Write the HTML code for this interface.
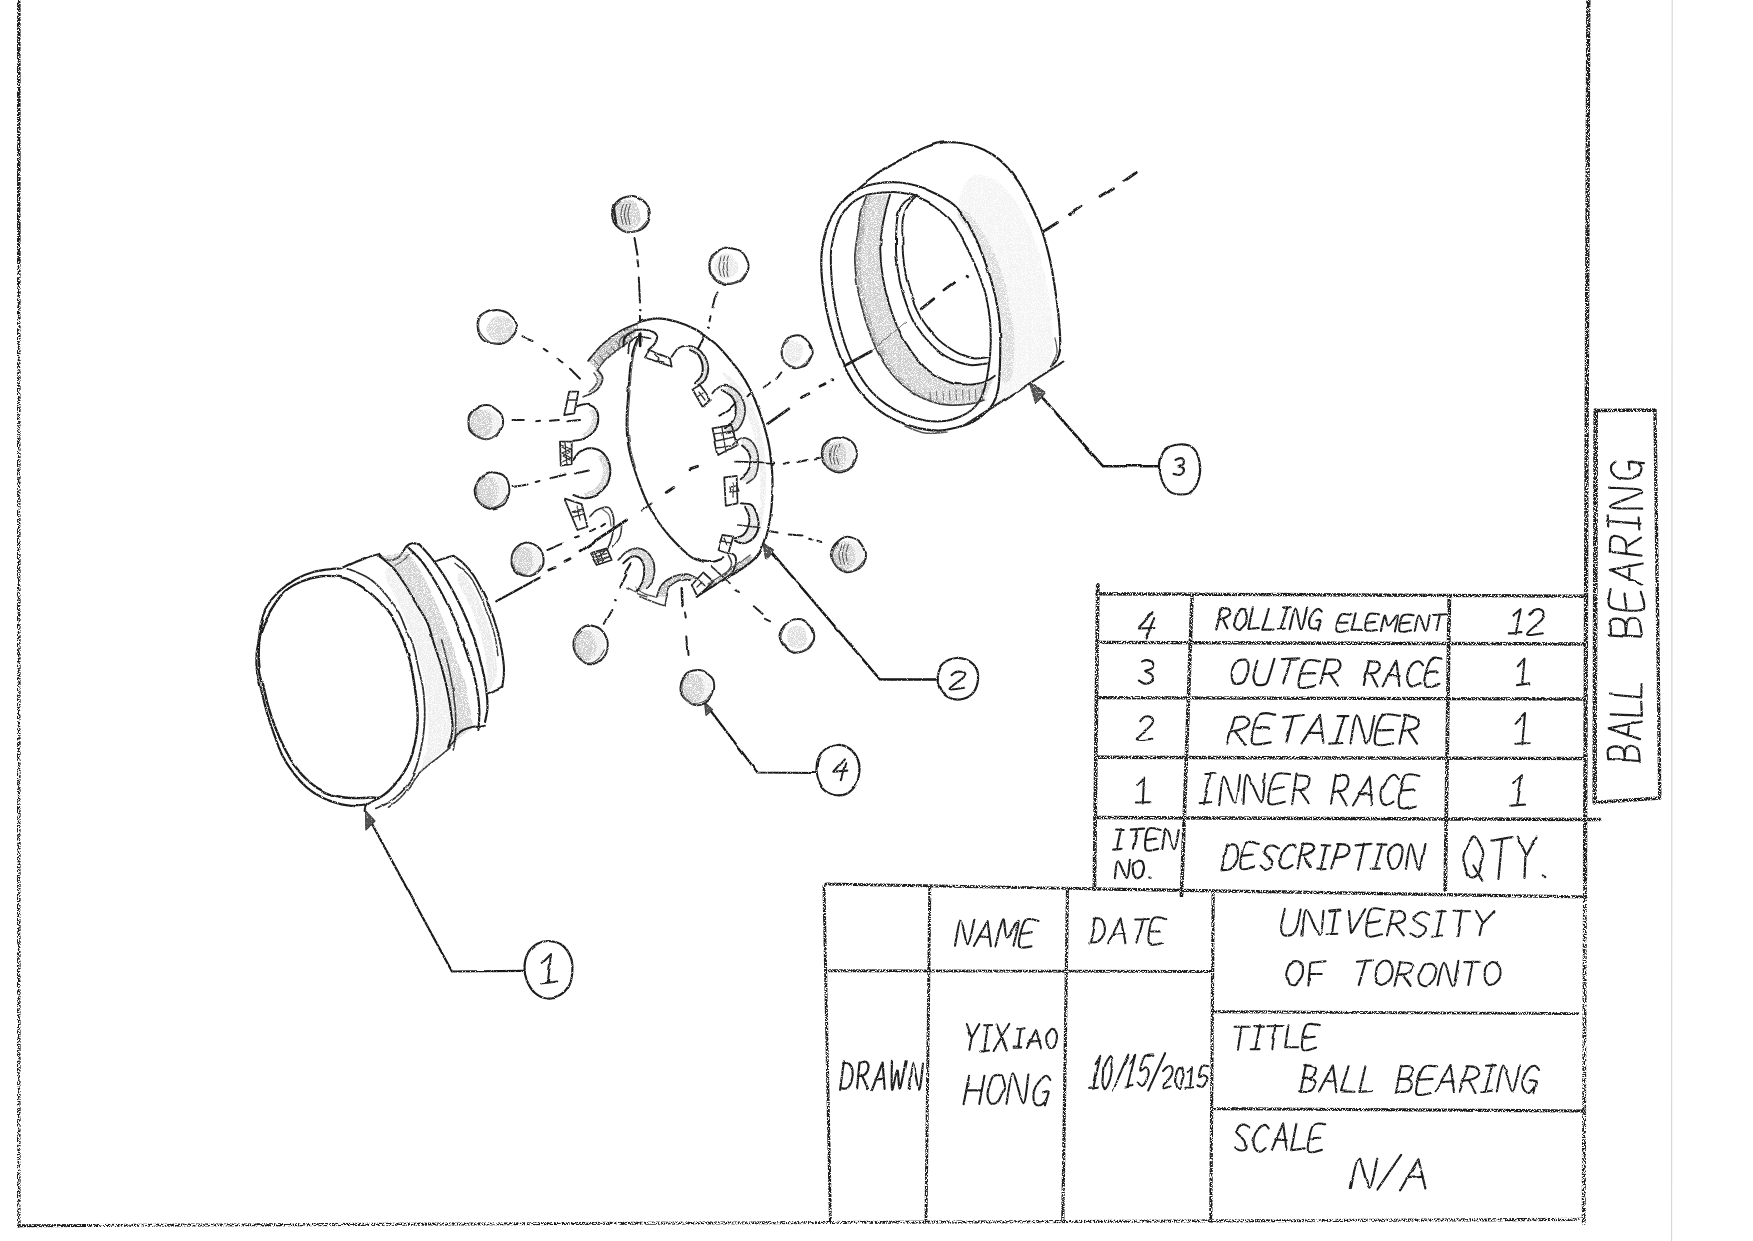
<!DOCTYPE html>
<html><head><meta charset="utf-8"><title>Ball Bearing</title>
<style>
html,body{margin:0;padding:0;background:#fff;font-family:"Liberation Sans",sans-serif;}
svg{display:block}
</style></head><body>
<svg width="1753" height="1241" viewBox="0 0 1753 1241" stroke-linecap="round" stroke-linejoin="round">
<defs>
<filter id="st" x="-5%" y="-5%" width="110%" height="110%" filterUnits="objectBoundingBox">
<feTurbulence type="fractalNoise" baseFrequency="0.8" numOctaves="2" seed="3" result="n"/>
<feColorMatrix in="n" type="matrix" values="0 0 0 0 0 0 0 0 0 0 0 0 0 0 0 0 0 0 -9 5.6" result="m"/>
<feComposite in="SourceGraphic" in2="m" operator="in" result="c"/>
<feGaussianBlur in="c" stdDeviation="0.4"/>
</filter>
<filter id="st2" x="-5%" y="-5%" width="110%" height="110%">
<feTurbulence type="fractalNoise" baseFrequency="0.7" numOctaves="2" seed="11" result="n"/>
<feColorMatrix in="n" type="matrix" values="0 0 0 0 0 0 0 0 0 0 0 0 0 0 0 0 0 0 -9 5.0" result="m"/>
<feComposite in="SourceGraphic" in2="m" operator="in"/>
</filter>
<filter id="pn" x="-5%" y="-5%" width="110%" height="110%">
<feTurbulence type="fractalNoise" baseFrequency="0.9" numOctaves="2" seed="5" result="n"/>
<feColorMatrix in="n" type="matrix" values="0 0 0 0 0 0 0 0 0 0 0 0 0 0 0 0 0 0 -7 4.6" result="m"/>
<feComposite in="SourceGraphic" in2="m" operator="in"/>
</filter>
<filter id="pc" x="0" y="0" width="1753" height="1241" filterUnits="userSpaceOnUse">
<feTurbulence type="fractalNoise" baseFrequency="0.04" numOctaves="2" seed="2" result="w"/>
<feDisplacementMap in="SourceGraphic" in2="w" scale="2.4" xChannelSelector="R" yChannelSelector="G" result="d"/>
<feTurbulence type="fractalNoise" baseFrequency="1.2" numOctaves="1" seed="8" result="n"/>
<feColorMatrix in="n" type="matrix" values="0 0 0 0 0 0 0 0 0 0 0 0 0 0 0 0 0 0 -6 4.55" result="m"/>
<feComposite in="d" in2="m" operator="in"/>
</filter>
</defs>
<rect width="1753" height="1241" fill="#fff"/>
<g filter="url(#st)">
<path d="M18.8 0L18.8 260" fill="none" stroke="#1c1c1c" stroke-width="3.6" />
<path d="M18.5 1225.8L90 1225.5" fill="none" stroke="#1c1c1c" stroke-width="2.9" />
<path d="M1588.3 0L1585 880" fill="none" stroke="#1c1c1c" stroke-width="4.3" />
<path d="M1596.3 410.5L1655 410L1659.8 798L1595 802.5Z" fill="none" stroke="#1c1c1c" stroke-width="3.4" />
<path d="M1595.6 410.5L1594.6 802.5" fill="none" stroke="#1c1c1c" stroke-width="4.4" />
<path d="M1097.8 585L1094.4 889" fill="none" stroke="#1c1c1c" stroke-width="3.8" />
<path d="M1097 593.7L1586 596.2" fill="none" stroke="#1c1c1c" stroke-width="3.4" />
<path d="M1192 597L1181.5 896" fill="none" stroke="#1c1c1c" stroke-width="3.7" />
<path d="M1449.3 597L1445.3 890" fill="none" stroke="#1c1c1c" stroke-width="3.8" />
<path d="M1097 642.4L1586 644" fill="none" stroke="#1c1c1c" stroke-width="3.4" />
<path d="M1096 697.6L1586 699" fill="none" stroke="#1c1c1c" stroke-width="3.4" />
<path d="M1096 757.3L1586 758.5" fill="none" stroke="#1c1c1c" stroke-width="3.4" />
<path d="M1095 817.5L1600 819.5" fill="none" stroke="#1c1c1c" stroke-width="3.4" />
<path d="M826 884L1094 888.8" fill="none" stroke="#1c1c1c" stroke-width="2.9" />
<path d="M1094 888.8L1586 897" fill="none" stroke="#1c1c1c" stroke-width="3.2" />
<path d="M824 886L830.4 1221" fill="none" stroke="#1c1c1c" stroke-width="3" />
<path d="M929.8 887L926 1221" fill="none" stroke="#1c1c1c" stroke-width="3" />
<path d="M1067.5 889L1062.8 1221" fill="none" stroke="#1c1c1c" stroke-width="3.2" />
<path d="M1213.2 892L1210.8 1221" fill="none" stroke="#1c1c1c" stroke-width="3.2" />
<path d="M829 970.7L1211 971.5" fill="none" stroke="#1c1c1c" stroke-width="2.9" />
<path d="M1213 1011.7L1578 1013.6" fill="none" stroke="#1c1c1c" stroke-width="2.9" />
<path d="M1212 1108.6L1584 1111" fill="none" stroke="#1c1c1c" stroke-width="3.1" />
</g>
<g filter="url(#st2)">
<path d="M1585 880L1583.7 1223" fill="none" stroke="#1c1c1c" stroke-width="4" />
<path d="M18.8 260L18.8 1226" fill="none" stroke="#1c1c1c" stroke-width="3.6" />
<path d="M90 1225.5L1584 1219.4" fill="none" stroke="#1c1c1c" stroke-width="3.1" />
</g>
<path d="M1672.2 0L1671.6 1241" fill="none" stroke="#d4d4d4" stroke-width="1.1" />
<g filter="url(#pc)">
<g filter="url(#pn)">
<path d="M866.7 195.8C865.6 198.7 861.4 207.6 860 213.3C858.6 219 859.1 223 858.2 230C857.4 237 855.2 246.9 854.9 255.4C854.6 263.9 855.5 272.3 856.6 280.8C857.7 289.3 859.5 297.7 861.6 306.2C863.7 314.7 866.3 323.4 869.3 331.6C872.3 339.8 875.2 347.7 879.4 355.3C883.6 362.9 888.7 370.8 894.6 377.3C900.5 383.8 908.2 390 915 394.2C921.8 398.4 929.5 400.9 935.3 402.7C941.1 404.5 945 404.9 950 405.2C955 405.5 960.5 404.9 965 404.5C969.5 404.1 973.5 403.2 976.7 402.5C979.9 401.8 982.8 400.4 984 400L995 375.8C993.6 376.7 989.9 379.6 986.7 381C983.5 382.4 979.6 383.4 976 384C972.4 384.6 969.3 384.8 965 384.5C960.7 384.2 956.1 384.8 950 382.5C943.9 380.2 934.9 375.6 928.5 370.5C922.1 365.4 916.7 358.9 911.6 351.9C906.5 344.8 901.8 336.4 898 328.2C894.2 320 891.2 311.3 888.7 302.8C886.2 294.3 884.2 286.1 882.8 277.4C881.4 268.6 880.4 258.2 880.3 250.3C880.1 242.4 881 236.7 881.9 230C882.8 223.3 884.4 215.9 885.8 210C887.1 204.1 889.3 197.2 890 194.7Z" fill="#ababab" stroke="none" stroke-width="0" opacity="0.58"/>
<path d="M866.7 195.8C865.6 198.7 861.4 207.6 860 213.3C858.6 219 859.1 223 858.2 230C857.4 237 855.2 246.9 854.9 255.4C854.6 263.9 855.5 272.3 856.6 280.8C857.7 289.3 859.5 297.7 861.6 306.2C863.7 314.7 866.3 323.4 869.3 331.6C872.3 339.8 875.2 347.7 879.4 355.3C883.6 362.9 888.7 370.8 894.6 377.3C900.5 383.8 908.2 390 915 394.2C921.8 398.4 929.5 400.9 935.3 402.7C941.1 404.5 945 404.9 950 405.2C955 405.5 960.5 404.9 965 404.5C969.5 404.1 973.5 403.2 976.7 402.5C979.9 401.8 982.8 400.4 984 400L989.5 399C988.3 399.4 985.4 400.8 982.2 401.5C979 402.2 975 403.1 970.5 403.5C966 403.9 960.5 404.5 955.5 404.2C950.5 403.9 946.6 403.5 940.8 401.7C935 399.9 927.3 397.4 920.5 393.2C913.7 389 906 382.8 900.1 376.3C894.2 369.8 889.1 361.9 884.9 354.3C880.7 346.7 877.8 338.8 874.8 330.6C871.8 322.4 869.2 313.7 867.1 305.2C865 296.7 863.2 288.3 862.1 279.8C861 271.3 860.1 262.9 860.4 254.4C860.7 245.9 862.9 236 863.7 229C864.6 222 864.1 218 865.5 212.3C866.9 206.6 871.1 197.7 872.2 194.8Z" fill="#8a8a8a" stroke="none" stroke-width="0" opacity="0.45"/>
<path d="M960 212C962.2 219.7 970.5 227.7 975 236C979.5 244.3 983.5 253 987 262C990.5 271 993.5 280.3 996 290C998.5 299.7 1000.8 310 1002 320C1003.2 330 1003.2 339.2 1003 350C1002.8 360.8 1002.3 375.8 1001 385C999.7 394.2 988.5 406.2 995 405C1001.5 403.8 1030.5 386.3 1040 378C1049.5 369.7 1050 364.7 1052 355C1054 345.3 1052.8 331.7 1052 320C1051.2 308.3 1049 295.8 1047 285C1045 274.2 1042.8 264.5 1040 255C1037.2 245.5 1034.2 237.2 1030 228C1025.8 218.8 1020.8 208 1015 200C1009.2 192 1001.7 184.2 995 180C988.3 175.8 980.5 173.3 975 175C969.5 176.7 964.5 183.8 962 190C959.5 196.2 957.8 204.3 960 212Z" fill="#e2e2e2" stroke="none" stroke-width="0" opacity="0.42"/>
<path d="M958 214C959.2 218.7 970 231 975 240C980 249 984.3 258 988 268C991.7 278 994.7 288.8 997 300C999.3 311.2 1001.2 321.7 1002 335C1002.8 348.3 1000.3 373.3 1002 380C1003.7 386.7 1010 382.5 1012 375C1014 367.5 1014.7 347.8 1014 335C1013.3 322.2 1010.7 310.2 1008 298C1005.3 285.8 1002 272.7 998 262C994 251.3 989 242.3 984 234C979 225.7 972.3 215.3 968 212C963.7 208.7 956.8 209.3 958 214Z" fill="#c2c2c2" stroke="none" stroke-width="0" opacity="0.5"/>
</g>
<path d="M821.5 272.3C821.1 264.4 821.1 257.4 821.9 250.3C822.7 243.2 824.3 235.7 826.1 230C827.9 224.3 829.4 221.1 832.5 216C835.6 210.9 840.4 203.8 845 199.2C849.6 194.6 854.2 191 860 188.3C865.8 185.6 873.3 184 880 183C886.7 182 893.9 182 900 182.5C906.1 183 910.6 183.9 916.7 185.8C922.8 187.8 930.6 191.1 936.7 194.2C942.8 197.3 948.7 200.4 953.5 204.5C958.3 208.6 961.7 213.4 965.4 219C969.1 224.6 972.5 231.7 975.6 238.3C978.7 244.9 981.5 251.9 984 258.7C986.5 265.5 988.8 272.2 990.8 279C992.8 285.8 994.5 292.5 995.9 299.3C997.3 306.1 998.6 312.8 999.3 319.6C1000 326.4 1000.2 332.7 1000.3 340C1000.4 347.3 1000.3 355.2 1000 363.3C999.7 371.4 999.4 381.6 998.3 388.3C997.2 395 995.5 399.1 993.3 403.3C991.1 407.5 988.3 410.2 985 413.3C981.7 416.4 978 419.3 973.3 421.7C968.6 424.1 962.5 426 956.7 427.5C950.9 429 945.1 430.5 938.7 430.6C932.3 430.7 925.1 429.7 918.3 428.1C911.5 426.6 904.8 424.4 898 421.3C891.2 418.2 884.2 414.5 877.7 409.4C871.2 404.3 864.5 397.6 859.1 390.8C853.8 384 849.3 375.9 845.6 368.8C841.9 361.8 839.8 356.1 837.1 348.5C834.4 340.9 831.6 331.6 829.5 323.1C827.4 314.6 825.7 306.2 824.4 297.7C823.1 289.2 821.9 280.2 821.5 272.3Z" fill="none" stroke="#1c1c1c" stroke-width="2.2" />
<path d="M831.2 272.3C830.8 264.4 830.5 257.4 831.2 250.3C831.9 243.2 833.8 235.6 835.4 230C837 224.4 838.3 221.4 841 217C843.7 212.6 847.4 207 851.7 203.3C856 199.6 861.4 196.8 866.7 195C872 193.2 877.8 192.9 883.3 192.5C888.8 192.1 894.4 191.8 900 192.5C905.6 193.2 911.2 194.6 916.7 196.7C922.2 198.8 927.4 200.9 933.3 205C939.2 209.1 947.1 215.8 951.9 221.4C956.7 227 958.6 232.1 962 238.3C965.4 244.5 969.1 251.9 972.2 258.7C975.3 265.5 978.2 272.2 980.6 279C983 285.8 985.1 292.5 986.6 299.3C988.1 306.1 989.2 312.8 989.9 319.6C990.6 326.4 990.8 334.1 990.8 340C990.8 345.9 990.4 350 990 355C989.6 360 989.1 364.7 988.3 370C987.5 375.3 986.4 381.7 985 386.7C983.6 391.7 982.2 396.1 980 400C977.8 403.9 975 407.2 971.7 410C968.4 412.8 964.5 414.9 960 416.7C955.5 418.5 950.8 420.4 945 421C939.2 421.6 931.8 421.6 925.1 420.5C918.4 419.4 911.3 417.2 904.8 414.5C898.3 411.8 892.1 408.6 886.2 404.4C880.3 400.2 874.4 395 869.3 389.1C864.2 383.2 859.5 375.6 855.7 368.8C851.9 362 849.2 356.1 846.4 348.5C843.6 340.9 840.9 331.6 838.8 323.1C836.7 314.6 835 306.2 833.7 297.7C832.4 289.2 831.6 280.2 831.2 272.3Z" fill="none" stroke="#1c1c1c" stroke-width="2" />
<path d="M866.7 195.8C865.6 198.7 861.4 207.6 860 213.3C858.6 219 859.1 223 858.2 230C857.4 237 855.2 246.9 854.9 255.4C854.6 263.9 855.5 272.3 856.6 280.8C857.7 289.3 859.5 297.7 861.6 306.2C863.7 314.7 866.3 323.4 869.3 331.6C872.3 339.8 875.2 347.7 879.4 355.3C883.6 362.9 888.7 370.8 894.6 377.3C900.5 383.8 908.2 390 915 394.2C921.8 398.4 929.5 400.9 935.3 402.7C941.1 404.5 945 404.9 950 405.2C955 405.5 960.5 404.9 965 404.5C969.5 404.1 973.5 403.2 976.7 402.5C979.9 401.8 982.8 400.4 984 400" fill="none" stroke="#3a3a3a" stroke-width="1.7" />
<path d="M890 194.7C889.3 197.2 887.1 204.1 885.8 210C884.4 215.9 882.8 223.3 881.9 230C881 236.7 880.1 242.4 880.3 250.3C880.4 258.2 881.4 268.6 882.8 277.4C884.2 286.1 886.2 294.3 888.7 302.8C891.2 311.3 894.2 320 898 328.2C901.8 336.4 906.5 344.8 911.6 351.9C916.7 358.9 922.1 365.4 928.5 370.5C934.9 375.6 943.9 380.2 950 382.5C956.1 384.8 960.7 384.2 965 384.5C969.3 384.8 972.4 384.6 976 384C979.6 383.4 983.5 382.4 986.7 381C989.9 379.6 993.6 376.7 995 375.8" fill="none" stroke="#1c1c1c" stroke-width="1.9" />
<path d="M916.7 195.8C914.8 196.8 908.1 198.8 905 201.7C901.9 204.6 899.8 208.6 898.3 213.3C896.8 218 896.6 223 896.3 230C896 237 895.7 246.9 896.3 255.4C896.9 263.9 898 272.6 899.7 280.8C901.4 289 903.7 296.9 906.5 304.5C909.3 312.1 912.5 319.7 916.7 326.5C920.9 333.3 926.4 339.7 931.9 345.1C937.4 350.5 943.6 355.4 950 358.7C956.4 362 963.7 364.2 970 365C976.3 365.8 985 363.6 988 363.3" fill="none" stroke="#1c1c1c" stroke-width="2" />
<path d="M916.7 196.7C915.3 198.1 910.5 201.7 908.3 205C906.1 208.3 904.3 212.5 903.3 216.7C902.3 220.9 902.3 223.6 902.3 230C902.3 236.4 902.4 247.2 903.1 255.4C903.8 263.6 904.8 271.5 906.5 279.1C908.2 286.7 910.5 294.1 913.3 301.1C916.1 308.2 919.4 315.2 923.4 321.4C927.4 327.6 932.6 333.8 937 338.3C941.4 342.8 945.8 345.7 950 348.5C954.2 351.3 957.8 353.3 962 355C966.2 356.7 970.7 358.2 975 358.5C979.3 358.8 985.8 357.2 988 357" fill="none" stroke="#1c1c1c" stroke-width="1.9" />
<path d="M845 199.2C848.9 196 861.6 185.2 868.3 180C875 174.8 879.2 171.9 885 168.3C890.8 164.7 896.9 161.6 903.3 158.3C909.7 155 917.2 150.9 923.3 148.3C929.4 145.7 934.4 143.8 940 142.8C945.6 141.8 950.6 141.8 956.7 142.5C962.8 143.2 970.6 144.6 976.7 146.7C982.8 148.8 988.3 151.7 993.3 155C998.3 158.3 1002.5 162.2 1006.7 166.7C1010.9 171.1 1014.4 175.6 1018.3 181.7C1022.2 187.8 1026.1 195.2 1030 203.3C1033.9 211.4 1038.4 220.6 1041.7 230C1045 239.4 1047.8 250.3 1050 260C1052.2 269.7 1053.6 279.4 1055 288.3C1056.4 297.2 1057.5 305.5 1058.3 313.3C1059.1 321.1 1059.7 328.9 1060 335C1060.3 341.1 1060.5 345.8 1060 350C1059.5 354.2 1058.2 357.2 1056.7 360C1055.2 362.8 1052 365.4 1051 366.5" fill="none" stroke="#1c1c1c" stroke-width="2.2" />
<path d="M1055 338C1055.3 340.3 1057.5 347.7 1057 352C1056.5 356.3 1052.8 362 1052 364" fill="none" stroke="#555" stroke-width="1.3" />
<path d="M1063.3 361.7L965 425" fill="none" stroke="#262626" stroke-width="2.2" />
<path d="M905 426C908.3 427.2 918 432 925 433C932 434 943.3 432.2 947 432" fill="none" stroke="#555" stroke-width="1.6" />
<path d="M930 392L930.5 400" fill="none" stroke="#666" stroke-width="1" />
<path d="M936.5 391.7L937 400" fill="none" stroke="#666" stroke-width="1" />
<path d="M943 391.4L943.5 400" fill="none" stroke="#666" stroke-width="1" />
<path d="M949.5 391.1L950 400" fill="none" stroke="#666" stroke-width="1" />
<path d="M956 390.8L956.5 400" fill="none" stroke="#666" stroke-width="1" />
<path d="M962.5 390.5L963 400" fill="none" stroke="#666" stroke-width="1" />
<path d="M969 390.2L969.5 400" fill="none" stroke="#666" stroke-width="1" />
<path d="M975.5 389.9L976 400" fill="none" stroke="#666" stroke-width="1" />
<path d="M982 389.6L982.5 400" fill="none" stroke="#666" stroke-width="1" />
<path d="M1030 383.5L1103.1 466.3L1160 466.3" fill="none" stroke="#161616" stroke-width="2.6" />
<path d="M1029.5 382.5L1035.6 403.8L1045 393.1Z" fill="#555" stroke="#3a3a3a" stroke-width="1.1" />
<path d="M1179.6 444.5C1184.3 444.2 1189.7 445.1 1193 448C1196.3 450.9 1198.5 457 1199.5 462C1200.5 467 1200.2 473.2 1199 478C1197.8 482.8 1195 488.2 1192 491C1189 493.8 1184.8 494.5 1181 494.5C1177.2 494.5 1172.2 493.6 1169 491C1165.8 488.4 1163 483.5 1161.5 479C1160 474.5 1159.4 468.8 1160 464C1160.6 459.2 1161.7 453.2 1165 450C1168.3 446.8 1174.9 444.8 1179.6 444.5Z" fill="none" stroke="#1c1c1c" stroke-width="2.2" />
<path d="M259.7 670C258.9 663.8 258.6 656.3 258.8 650C259 643.7 259.2 638.3 261 632C262.8 625.7 265.6 619.1 269.5 612.4C273.4 605.7 279 596.9 284.3 591.8C289.6 586.6 295.4 584.1 301.5 581.5C307.6 578.9 314.6 577.1 320.9 576.3C327.2 575.5 333.8 576 339.2 576.9C344.6 577.8 347.9 578.8 353 581.5C358.1 584.2 364.8 588.5 370.1 592.9C375.4 597.3 380.6 602.4 385 607.8C389.4 613.1 393.2 618.9 396.5 625C399.8 631.1 402.2 638.3 404.5 644.4C406.8 650.5 408.5 654.5 410.2 661.6C411.9 668.7 413.7 680.1 414.8 687.2C415.9 694.3 416.5 698.6 417 704.3C417.5 710 417.8 715.8 417.6 721.5C417.4 727.2 416.8 733.3 415.9 738.6C415 743.9 414 748.7 412.5 753.5C411 758.3 409.1 762.9 406.8 767.3C404.5 771.7 401.6 776 398.7 779.8C395.8 783.6 392.8 787.1 389.6 790.1C386.4 793.1 382.4 796.3 379.3 797.5C376.2 798.7 374.7 797.4 371.3 797.5C367.9 797.6 363.7 798.2 358.7 798.1C353.7 798 347 798 341.5 797C336 796 330.8 794.9 325.5 792.4C320.2 789.9 314.4 786.3 309.5 782.1C304.6 777.9 300 773 295.8 767.3C291.6 761.6 287.7 754.5 284.3 747.8C280.9 741.1 277.9 734.1 275.2 727.2C272.5 720.3 270.2 713.3 268.3 706.6C266.4 699.9 265.1 693.3 263.7 687.2C262.3 681.1 260.5 676.2 259.7 670Z" fill="none" stroke="#1c1c1c" stroke-width="2.4" />
<path d="M364.4 805.6C363.3 805.7 361.4 806.4 357.6 806.2C353.8 806 347.2 805.8 341.5 804.4C335.8 803 328.9 800.9 323.2 798.1C317.5 795.3 312.1 792 307.2 787.8C302.2 783.6 297.7 778.5 293.5 773C289.3 767.5 285.2 761.2 282 754.7C278.8 748.2 276.5 741 274 734.1C271.5 727.2 269.3 720.8 267.2 713.5C265.1 706.2 263.1 697.9 261.4 690.6C259.7 683.4 257.7 675.9 256.9 670C256.1 664.1 256.3 659.3 256.5 655C256.7 650.7 257.2 650 258 644.4C258.8 638.8 260.1 627.6 261.4 621.5C262.7 615.4 263.1 612.8 266 607.8C268.9 602.8 273.6 596.6 278.6 591.8C283.6 587 289.9 582.5 295.8 579.2C301.7 575.9 308 573.5 314.1 571.8C320.2 570.1 327.8 569.5 332.4 568.9C337 568.3 338.1 569.2 341.5 568.3C344.9 567.3 349.2 564.8 353 563.2C356.8 561.6 360 560.1 364.4 558.6C368.8 557.1 376.8 554.8 379.3 554" fill="none" stroke="#1c1c1c" stroke-width="2.2" />
<path d="M379.3 798.1C377.2 799.2 369.1 802.7 366.7 805C364.2 807.3 365 810.8 364.6 812" fill="none" stroke="#1c1c1c" stroke-width="2" />
<path d="M348.4 568.9C351.1 570 359.8 573.3 364.4 575.8C369 578.3 372.1 580.4 375.9 583.8C379.7 587.2 383.5 591.6 387.3 596.4C391.1 601.2 395.6 607.1 398.7 612.4C401.8 617.7 403.3 623.1 405.6 628.4C407.9 633.7 410.6 638.9 412.5 644.4C414.4 649.9 415.9 657 417 661.6C418.1 666.2 418.3 667.7 419.3 672C420.3 676.3 421.9 681.8 422.8 687.2C423.7 692.6 424.2 698.6 424.5 704.3C424.8 710 424.8 715.8 424.5 721.5C424.2 727.2 423.7 732.9 422.8 738.6C421.9 744.3 420.6 750.4 419.3 755.8C418 761.1 416.7 765.9 414.8 770.7C412.9 775.5 410.6 780.4 407.9 784.4C405.2 788.4 401.8 791.8 398.7 794.7C395.6 797.6 393.4 799.3 389.6 801.6C385.8 803.9 378.2 807.3 375.9 808.4" fill="none" stroke="#2e2e2e" stroke-width="1.8" stroke-dasharray="4 1.2"/>
<path d="M379.3 554.6C380.6 555.5 384.4 559.6 387.3 560.3C390.2 561 394 559.8 396.5 558.6C399 557.4 400.5 555 402.2 552.9C403.9 550.8 405.1 547.6 406.8 546C408.5 544.4 410.6 543.5 412.5 543.2C414.4 542.9 417.2 544.1 418.2 544.3" fill="none" stroke="#1c1c1c" stroke-width="2.1" />
<path d="M395.3 565.5C396.4 564.8 399.8 562.8 402.2 561C404.6 559.2 408.7 555.6 410 554.5" fill="none" stroke="#3a3a3a" stroke-width="1.5" />
<g filter="url(#pn)">
<path d="M379.3 556.3C381.6 558.2 388.8 563.2 393 567.8C397.2 572.4 400.7 577.9 404.5 583.8C408.3 589.7 412.1 596.8 415.9 603.2C419.7 609.7 424.3 615.7 427.3 622.5C430.3 629.3 431.9 637.5 434 644C436.1 650.5 438.2 655.7 440 661.7C441.8 667.7 443.6 674.5 445 680C446.4 685.5 447.3 689.7 448.3 695C449.3 700.3 450.3 706.8 451 712C451.7 717.2 452.4 722.2 452.5 726C452.6 729.8 452.4 731.5 451.7 735C451 738.5 448.9 744.8 448.3 746.7L472 728C472.1 727 473.1 726.7 472.5 722C471.9 717.3 470.1 708.1 468.3 700C466.5 691.9 464.2 682.2 461.7 673.3C459.2 664.4 456.4 655.6 453.3 646.7C450.2 637.8 446.9 628.9 443.3 620C439.7 611.1 435.6 601.6 431.7 593.3C427.8 585 423.9 576.9 420 570C416.1 563.1 410.2 554.8 408.3 551.7Z" fill="#b2b2b2" stroke="none" stroke-width="0" opacity="0.6"/>
<path d="M385 575C385.8 580.3 392.8 590.8 397 600C401.2 609.2 406.2 619.7 410 630C413.8 640.3 417.2 650.3 420 662C422.8 673.7 425.7 687 427 700C428.3 713 428.8 728.3 428 740C427.2 751.7 420.7 767.3 422 770C423.3 772.7 431.8 760 436 756C440.2 752 444.7 752 447 746C449.3 740 450.3 729.3 450 720C449.7 710.7 447.2 700.8 445 690C442.8 679.2 440.5 666.3 437 655C433.5 643.7 428.8 632.5 424 622C419.2 611.5 413.3 601 408 592C402.7 583 395.8 570.8 392 568C388.2 565.2 384.2 569.7 385 575Z" fill="#dedede" stroke="none" stroke-width="0" opacity="0.5"/>
<path d="M462 572C464.7 573.3 470.2 582.8 474 590C477.8 597.2 481.8 605.8 485 615C488.2 624.2 491 635.5 493 645C495 654.5 497.8 664.5 497 672C496.2 679.5 489.7 691.2 488 690C486.3 688.8 488.2 673.8 487 665C485.8 656.2 483.7 646.5 481 637C478.3 627.5 474.8 617.2 471 608C467.2 598.8 459.5 588 458 582C456.5 576 459.3 570.7 462 572Z" fill="#d4d4d4" stroke="none" stroke-width="0" opacity="0.5"/>
</g>
<path d="M379.3 556.3C381.6 558.2 388.8 563.2 393 567.8C397.2 572.4 400.7 577.9 404.5 583.8C408.3 589.7 412.1 596.8 415.9 603.2C419.7 609.7 424.3 615.7 427.3 622.5C430.3 629.3 431.9 637.5 434 644C436.1 650.5 438.2 655.7 440 661.7C441.8 667.7 443.6 674.5 445 680C446.4 685.5 447.3 689.7 448.3 695C449.3 700.3 450.3 706.8 451 712C451.7 717.2 452.4 722.2 452.5 726C452.6 729.8 452.4 731.5 451.7 735C451 738.5 448.9 744.8 448.3 746.7" fill="none" stroke="#1c1c1c" stroke-width="2.1" />
<path d="M441.7 640C443.1 645.5 447.8 662.2 450 673.3C452.2 684.4 454 697.8 455 706.7C456 715.6 455.8 721.2 455.8 726.7C455.8 732.2 455.4 736.1 455 740C454.6 743.9 453.6 748.3 453.3 750" fill="none" stroke="#3a3a3a" stroke-width="1.6" />
<path d="M408.3 547.5C410.8 550.1 418 556.2 423.3 563.3C428.6 570.4 434.7 580.5 440 590C445.3 599.5 450.6 610 455 620C459.4 630 463.6 641.3 466.7 650C469.8 658.7 471.5 665 473.3 672C475.1 679 476.5 685.4 477.5 692C478.5 698.6 479.3 705.4 479.4 711.7C479.5 718 478.5 727 478.3 730" fill="none" stroke="#1c1c1c" stroke-width="2.2" />
<path d="M419.2 544.2C421.3 546.6 427.1 552.3 431.7 558.3C436.3 564.3 441.7 571.7 446.7 580C451.7 588.3 457.3 598.8 461.7 608.3C466.1 617.8 470 627.2 473.3 636.7C476.6 646.2 479.6 656.7 481.7 665C483.8 673.3 484.8 679.8 485.8 686.7C486.8 693.7 487.6 700.8 487.5 706.7C487.4 712.6 485.4 719.5 485 722" fill="none" stroke="#1c1c1c" stroke-width="2.2" />
<path d="M434.2 561.7C435.8 561.2 440.8 559.5 444 558.5C447.2 557.5 451.8 556.2 453.3 555.8" fill="none" stroke="#1c1c1c" stroke-width="2" />
<path d="M453.3 555.8C455 557 460 560.1 463.3 563.3C466.6 566.5 470.2 570.5 473.3 575C476.4 579.5 478.9 584.5 481.7 590C484.5 595.5 487.5 601.9 490 608.3C492.5 614.7 494.8 621.3 496.7 628.3C498.6 635.2 500.5 643 501.7 650C502.9 657 503.9 663.9 504 670C504.1 676.1 502.6 683.9 502.3 686.7" fill="none" stroke="#1c1c1c" stroke-width="2.1" />
<path d="M455 563.3C457.5 565.5 465.8 571.4 470 576.7C474.2 582 476.9 588.6 480 595C483.1 601.4 485.8 608 488.3 615C490.8 622 493.4 629.9 495 636.7C496.6 643.5 497.5 652.8 498 656" fill="none" stroke="#3a3a3a" stroke-width="1.5" />
<path d="M502.3 686.7L495 690L488.3 693.3" fill="none" stroke="#1c1c1c" stroke-width="2" />
<path d="M389.6 806.2C391.1 805.1 395.6 802.2 398.7 799.3C401.8 796.4 405.4 792.2 407.9 789C410.4 785.8 411.7 782.5 413.6 779.8C415.5 777.1 416.8 775.5 419.3 773C421.8 770.5 425.2 767.7 428.5 765C431.8 762.3 435.2 759.9 438.8 757C442.4 754.1 448.1 749.3 450 747.8" fill="none" stroke="#3a3a3a" stroke-width="1.7" stroke-dasharray="3 1.4"/>
<path d="M448.3 748L455 740" fill="none" stroke="#262626" stroke-width="1.9" />
<path d="M455 741C455.3 740 455.3 736.8 456.7 735C458.1 733.2 460.5 731.4 463.3 730C466.1 728.6 470.8 727.2 473.3 726.7C475.8 726.2 476.4 727 478.3 726.9C480.2 726.8 483.9 726 485 725.8" fill="none" stroke="#1c1c1c" stroke-width="2" />
<path d="M365.8 812.5L452 971.5L523.5 970.8" fill="none" stroke="#161616" stroke-width="2.2" />
<path d="M365.6 811L365.8 830L375 821Z" fill="#555" stroke="#3a3a3a" stroke-width="1.1" />
<path d="M548.3 941C552.5 941.2 558.2 942.2 562 945C565.8 947.8 569.3 953.5 571 958C572.7 962.5 572.6 967.3 572.3 972C572 976.7 571 982 569 986C567 990 563.7 993.9 560 996C556.3 998.1 551.2 999 547 998.5C542.8 998 538.3 995.9 535 993C531.7 990.1 528.8 985.3 527 981C525.2 976.7 524.3 971.7 524.5 967C524.7 962.3 525.9 956.8 528 953C530.1 949.2 533.6 946 537 944C540.4 942 544.1 940.8 548.3 941Z" fill="none" stroke="#1c1c1c" stroke-width="2.2" />
<path d="M496.3 601.3L540 577.5" fill="none" stroke="#161616" stroke-width="2.2" />
<g filter="url(#pn)">
<path d="M588.1 360.8C590.4 358.1 596.5 349.8 601.9 344.8C607.2 339.8 614.1 334.6 620.2 331C626.3 327.4 635.5 324.3 638.5 323L633.9 337.9C632.4 339 628.9 341.8 624.7 344.8C620.5 347.9 613.3 352 608.7 356.2C604.1 360.4 599.2 367.7 597.3 370Z" fill="#999" stroke="none" stroke-width="0" opacity="0.7"/>
<path d="M755 558.3C752.5 560.2 745.3 566.4 740 570C734.7 573.6 728.8 576.7 723.3 580C717.8 583.3 709.5 588.3 706.7 590L708 584C710.3 582.5 717.2 578.2 722 575C726.8 571.8 732.3 568.3 737 565C741.7 561.7 747.8 556.7 750 555Z" fill="#9a9a9a" stroke="none" stroke-width="0" opacity="0.7"/>
<path d="M686.7 345.8C688.4 346.2 693.7 346.5 696.7 348.3C699.8 350.1 703.1 353.4 705 356.7C706.9 360 708.3 364.4 708.3 368.3C708.3 372.2 706.7 377.2 705 380C703.3 382.8 699.4 384.2 698.3 385L695 383.3C696.1 381.9 700.5 378.1 701.7 375C703 371.9 703.1 368.3 702.5 365C701.9 361.7 700.4 357.5 698.3 355C696.2 352.5 691.4 350.8 690 350Z" fill="#bdbdbd" stroke="none" stroke-width="0" opacity="0.6"/>
<path d="M730 386.7C731.7 388.1 737.5 391.4 740 395C742.5 398.6 744.5 404.1 745 408.3C745.5 412.5 744.7 416.4 743.3 420C741.9 423.6 739.5 427.8 736.7 430C733.9 432.2 728.4 432.8 726.7 433.3L725 428.3C726.4 426.9 731.5 423.3 733.3 420C735.1 416.7 736.1 412.2 735.8 408.3C735.5 404.4 734.1 399.8 731.7 396.7C729.4 393.6 723.4 391.1 721.7 390Z" fill="#b0b0b0" stroke="none" stroke-width="0" opacity="0.6"/>
<path d="M740 438.3C741.7 438.6 747.2 438.1 750 440C752.8 441.9 755.3 446.1 756.7 450C758.1 453.9 758.6 458.9 758.3 463.3C758 467.8 756.9 473.4 755 476.7C753.1 480 748.1 482.2 746.7 483.3L740.8 478.3C741.9 477.2 745.8 474.5 747.5 471.7C749.2 468.9 750.7 465 750.8 461.7C750.9 458.4 749.8 454.5 748.3 451.7C746.8 448.9 742.8 446.1 741.7 445Z" fill="#c4c4c4" stroke="none" stroke-width="0" opacity="0.6"/>
<path d="M751.7 505C752.7 506.9 756.4 512.8 757.5 516.7C758.6 520.6 759 524.7 758.3 528.3C757.6 531.9 755.8 535.8 753.3 538.3C750.8 540.8 746.3 542.9 743.3 543.3C740.2 543.7 736.4 541.2 735 540.8L735 538.3C736.4 537.8 741.1 536.9 743.3 535C745.5 533.1 747.3 529.8 748.3 526.7C749.3 523.7 749.8 520 749.2 516.7C748.7 513.4 745.7 508.4 745 506.7Z" fill="#c4c4c4" stroke="none" stroke-width="0" opacity="0.5"/>
<path d="M656.7 596.7C657.5 594.8 658.9 588.3 661.7 585C664.5 581.7 669.1 578.5 673.3 576.7C677.5 574.9 682.8 573.9 686.7 574.2C690.6 574.5 695 577.6 696.7 578.3L690 580C688.3 580 683.3 578.9 680 580C676.7 581.1 672.2 583.9 670 586.7C667.8 589.5 667.2 595 666.7 596.7Z" fill="#a0a0a0" stroke="none" stroke-width="0" opacity="0.7"/>
<path d="M626.7 551.7C628.6 551.1 634.7 548 638.3 548.3C641.9 548.6 645.6 550.5 648.3 553.3C650.9 556.1 653.4 560.8 654.2 565C655 569.2 654.5 574.4 653.3 578.3C652 582.2 647.8 586.6 646.7 588.3L636.7 591.7C637.7 590 641.2 585.6 642.5 581.7C643.8 577.8 644.6 572.2 644.2 568.3C643.8 564.4 642.1 560.2 640 558.3C637.9 556.4 633.1 557 631.7 556.7Z" fill="#b0b0b0" stroke="none" stroke-width="0" opacity="0.6"/>
<path d="M595 408.3C595.5 410 598.3 414.7 598.3 418.3C598.3 421.9 597.2 426.7 595 430C592.8 433.3 586.7 436.9 585 438.3L582 435C583.2 433.8 587.3 430.7 589 428C590.7 425.3 592 421.8 592 419C592 416.2 589.5 412.3 589 411Z" fill="#b5b5b5" stroke="none" stroke-width="0" opacity="0.6"/>
<path d="M603.3 453.3C604.4 455.5 609.2 462 610 466.7C610.8 471.4 610 477.3 608.3 481.7C606.6 486.1 603.6 490.5 600 493.3C596.4 496.1 588.9 497.5 586.7 498.3L585 493C586.5 492.3 591.3 491.2 594 489C596.7 486.8 599.5 483.5 601 480C602.5 476.5 603.5 471.8 603 468C602.5 464.2 598.8 458.8 598 457Z" fill="#b0b0b0" stroke="none" stroke-width="0" opacity="0.6"/>
<path d="M597.5 366.7C598.3 368.1 602.1 371.9 602.5 375C602.9 378.1 601.5 382.1 600 385C598.5 387.9 594.4 391.2 593.3 392.5L589.2 391.7C590.3 390.6 594.3 387.5 595.8 385C597.3 382.5 598.4 379.2 598.3 376.7C598.2 374.2 595.5 371.1 595 370Z" fill="#a0a0a0" stroke="none" stroke-width="0" opacity="0.6"/>
<path d="M722 372C722.2 370.2 733 378.7 738 384C743 389.3 748.3 396.7 752 404C755.7 411.3 757.8 419.5 760 428C762.2 436.5 764 444.7 765 455C766 465.3 766.5 478.3 766 490C765.5 501.7 763.5 516.7 762 525C760.5 533.3 757.3 544.2 757 540C756.7 535.8 759.5 511.7 760 500C760.5 488.3 760.8 480 760 470C759.2 460 757.2 449.2 755 440C752.8 430.8 750 422.5 747 415C744 407.5 741.2 402.2 737 395C732.8 387.8 721.8 373.8 722 372Z" fill="#dcdcdc" stroke="none" stroke-width="0" opacity="0.5"/>
</g>
<path d="M640 321.7C642.8 321.1 650.6 318.3 656.7 318.3C662.8 318.3 670 319.8 676.7 321.7C683.4 323.6 690.3 326.4 696.7 330C703.1 333.6 709.2 338 715 343.3C720.8 348.6 726.7 355.6 731.7 361.7C736.7 367.8 741.1 373.6 745 380C748.9 386.4 752 392.8 755 400C758 407.2 760.9 415.5 763.3 423.3C765.7 431.1 767.8 438.9 769.2 446.7C770.7 454.5 771.5 463.1 772 470C772.5 476.9 772.5 482.2 772.5 488C772.5 493.8 772.2 499.1 771.7 505C771.2 510.9 770.5 516.9 769.2 523.3C768 529.7 766.6 537.5 764.2 543.3C761.8 549.1 759 553.8 755 558.3C751 562.8 745.3 566.4 740 570C734.7 573.6 728.8 576.7 723.3 580C717.8 583.3 711.1 587.2 706.7 590C702.3 592.8 698.4 595.6 696.7 596.7" fill="none" stroke="#1c1c1c" stroke-width="2.2" />
<path d="M640 333.3C638.9 336.1 635 343.9 633.3 350C631.6 356.1 630.8 362.8 630 370C629.2 377.2 628.8 385.5 628.3 393.3C627.8 401.1 626.9 410 626.7 416.7C626.5 423.4 626.5 427.8 626.9 433.3C627.3 438.9 628 444.2 629.2 450C630.4 455.8 632 461.7 634 468C636 474.3 638.6 481.8 641 488C643.4 494.2 645.6 499.7 648.3 505C651 510.3 653.4 514.7 657 520C660.6 525.3 665 531.2 670 536.7C675 542.2 681.7 549.3 686.7 553.3C691.7 557.3 695.6 559.4 700 560.8C704.4 562.2 709.4 562.1 713.3 561.7C717.2 561.3 721.6 558.9 723.3 558.3" fill="none" stroke="#1c1c1c" stroke-width="2.1" />
<path d="M588.1 360.8C590.4 358.1 596.5 349.8 601.9 344.8C607.2 339.8 614.1 334.6 620.2 331C626.3 327.4 635.5 324.3 638.5 323" fill="none" stroke="#262626" stroke-width="1.8" />
<path d="M597.3 370C599.2 367.7 604.1 360.4 608.7 356.2C613.3 352 620.5 347.9 624.7 344.8C628.9 341.8 632.4 339 633.9 337.9" fill="none" stroke="#3a3a3a" stroke-width="1.6" />
<path d="M594 360L598.5 365.5" fill="none" stroke="#555" stroke-width="1" />
<path d="M599.6 355.4L604.1 360.9" fill="none" stroke="#555" stroke-width="1" />
<path d="M605.2 350.8L609.7 356.3" fill="none" stroke="#555" stroke-width="1" />
<path d="M610.8 346.2L615.3 351.7" fill="none" stroke="#555" stroke-width="1" />
<path d="M616.4 341.6L620.9 347.1" fill="none" stroke="#555" stroke-width="1" />
<path d="M622 337L626.5 342.5" fill="none" stroke="#555" stroke-width="1" />
<path d="M627.6 332.4L632.1 337.9" fill="none" stroke="#555" stroke-width="1" />
<path d="M641.5 334C640.4 336.7 636.5 344 634.8 350C633.1 356 632.3 362.8 631.5 370C630.7 377.2 630.3 385.5 629.8 393.3C629.2 401.1 628.4 410 628.2 416.7C628 423.4 628.1 427.8 628.5 433.3C628.9 438.9 629.6 444.2 630.8 450C632 455.8 634.7 465 635.5 468" fill="none" stroke="#555" stroke-width="1.2" />
<path d="M623.3 346.7C623.6 345 623.3 339.3 625 336.7C626.7 334.1 629.7 331.9 633.3 330.8C636.9 329.7 642.8 329.3 646.7 330C650.6 330.7 655.3 332.8 656.7 335C658.1 337.2 656.4 340.8 655 343.3C653.6 345.8 649.4 348.9 648.3 350" fill="none" stroke="#1c1c1c" stroke-width="2.1" />
<path d="M628.3 353.3C628.6 351.4 628.3 344.5 630 341.7C631.7 338.9 635 337.3 638.3 336.7C641.6 336.1 648 338 650 338.3" fill="none" stroke="#262626" stroke-width="1.8" />
<path d="M618.5 350C618.8 348.3 618.6 342.8 620 340C621.4 337.2 625.8 334.2 627 333" fill="none" stroke="#555" stroke-width="1.3" />
<path d="M640 333L640.2 346" fill="none" stroke="#161616" stroke-width="2.7" />
<path d="M649.2 350L670 358.3L671.7 366.7L645 357.5Z" fill="none" stroke="#222" stroke-width="1.8" />
<path d="M655 354L660 358L657 361L664 362" fill="none" stroke="#2e2e2e" stroke-width="1.3" />
<path d="M692.5 389.2L700 385L710.8 400L702.5 406.7Z" fill="none" stroke="#222" stroke-width="1.8" />
<path d="M699 392L705 400" fill="none" stroke="#2e2e2e" stroke-width="1.3" />
<path d="M697 397L703 393" fill="none" stroke="#2e2e2e" stroke-width="1.3" />
<path d="M712.5 428.3L731.7 425L736.7 445L718.3 455Z" fill="none" stroke="#222" stroke-width="1.8" />
<path d="M714 434L733 431" fill="none" stroke="#2e2e2e" stroke-width="1.3" />
<path d="M716 441L734 437" fill="none" stroke="#2e2e2e" stroke-width="1.3" />
<path d="M717 448L730 446" fill="none" stroke="#2e2e2e" stroke-width="1.3" />
<path d="M722 428L726 452" fill="none" stroke="#2e2e2e" stroke-width="1.3" />
<path d="M724.2 477.5L736.7 475.8L737.5 503.3L725.8 505.8Z" fill="none" stroke="#222" stroke-width="1.8" />
<path d="M729 487L737 486L739 491L730 492L729 487" fill="none" stroke="#2e2e2e" stroke-width="1.3" />
<path d="M733 482L733 497" fill="none" stroke="#2e2e2e" stroke-width="1.3" />
<path d="M722.5 535L733.3 536.7L728.3 553.3L717.5 550Z" fill="none" stroke="#222" stroke-width="1.8" />
<path d="M721 541L731 543" fill="none" stroke="#2e2e2e" stroke-width="1.3" />
<path d="M724 538L727 545" fill="none" stroke="#2e2e2e" stroke-width="1.3" />
<path d="M703.3 572.5L713.3 581.7L697.5 596.7L691.7 585Z" fill="none" stroke="#222" stroke-width="1.8" />
<path d="M699 580L704 586" fill="none" stroke="#2e2e2e" stroke-width="1.3" />
<path d="M697 587L702 582" fill="none" stroke="#2e2e2e" stroke-width="1.3" />
<path d="M711.7 566.7L730 583.3" fill="none" stroke="#262626" stroke-width="1.7" />
<path d="M569.2 391.7L578.3 391.7L574.2 413.3L564.2 415Z" fill="none" stroke="#222" stroke-width="1.8" />
<path d="M568 400L577 400" fill="none" stroke="#2e2e2e" stroke-width="1.3" />
<path d="M560 441.7L571.7 441.7L571.7 465L560.8 466.7Z" fill="none" stroke="#222" stroke-width="1.8" />
<path d="M562 447L570 452L563 456L570 460" fill="none" stroke="#2e2e2e" stroke-width="1.3" />
<path d="M565 443L567 464" fill="none" stroke="#2e2e2e" stroke-width="1.3" />
<path d="M561 445L571 449L562 453L571 458L562 462" fill="none" stroke="#2e2e2e" stroke-width="1.3" />
<path d="M564.2 498.3L581.7 504.2L587.5 526.7L577.5 530Z" fill="none" stroke="#222" stroke-width="1.8" />
<path d="M572 512L583 509" fill="none" stroke="#2e2e2e" stroke-width="1.3" />
<path d="M573 517L584 514" fill="none" stroke="#2e2e2e" stroke-width="1.3" />
<path d="M577 506L580 520" fill="none" stroke="#2e2e2e" stroke-width="1.3" />
<path d="M590 553.3L606.7 548.3L611.7 560L596.7 565Z" fill="none" stroke="#222" stroke-width="1.8" />
<path d="M594 557L608 553" fill="none" stroke="#2e2e2e" stroke-width="1.3" />
<path d="M597 562L609 557" fill="none" stroke="#2e2e2e" stroke-width="1.3" />
<path d="M600 551L603 563" fill="none" stroke="#2e2e2e" stroke-width="1.3" />
<path d="M595 553L599 564" fill="none" stroke="#2e2e2e" stroke-width="1.3" />
<path d="M592 555L606 550L596 560L610 556" fill="none" stroke="#2e2e2e" stroke-width="1.3" />
<path d="M671.7 356.7C672.8 355.3 675.8 350.1 678.3 348.3C680.8 346.5 683.6 345.8 686.7 345.8C689.8 345.8 693.7 346.5 696.7 348.3C699.8 350.1 703.1 353.4 705 356.7C706.9 360 708.3 364.4 708.3 368.3C708.3 372.2 706.7 377.2 705 380C703.3 382.8 699.4 384.2 698.3 385" fill="none" stroke="#262626" stroke-width="1.9" />
<path d="M690 350C691.4 350.8 696.2 352.5 698.3 355C700.4 357.5 701.9 361.7 702.5 365C703.1 368.3 703 371.9 701.7 375C700.5 378.1 696.1 381.9 695 383.3" fill="none" stroke="#1c1c1c" stroke-width="2" />
<path d="M705 335.8L698.3 348.3" fill="none" stroke="#161616" stroke-width="2.1" />
<path d="M713.3 393.3C714.4 392.2 717.2 387.8 720 386.7C722.8 385.6 726.7 385.3 730 386.7C733.3 388.1 737.5 391.4 740 395C742.5 398.6 744.5 404.1 745 408.3C745.5 412.5 744.7 416.4 743.3 420C741.9 423.6 739.5 427.8 736.7 430C733.9 432.2 728.4 432.8 726.7 433.3" fill="none" stroke="#2e2e2e" stroke-width="1.8" />
<path d="M721.7 390C723.4 391.1 729.4 393.6 731.7 396.7C734.1 399.8 735.5 404.4 735.8 408.3C736.1 412.2 735.1 416.7 733.3 420C731.5 423.3 726.4 426.9 725 428.3" fill="none" stroke="#1c1c1c" stroke-width="2" />
<path d="M719.2 415.8C720.7 414.8 725.4 412.4 728.3 410C731.2 407.6 735.3 403.1 736.7 401.7" fill="none" stroke="#161616" stroke-width="1.9" />
<path d="M731.7 445C733.1 443.9 737 439.1 740 438.3C743 437.5 747.2 438.1 750 440C752.8 441.9 755.3 446.1 756.7 450C758.1 453.9 758.6 458.9 758.3 463.3C758 467.8 756.9 473.4 755 476.7C753.1 480 748.1 482.2 746.7 483.3" fill="none" stroke="#3a3a3a" stroke-width="1.7" />
<path d="M741.7 445C742.8 446.1 746.8 448.9 748.3 451.7C749.8 454.5 750.9 458.4 750.8 461.7C750.7 465 749.2 468.9 747.5 471.7C745.8 474.5 741.9 477.2 740.8 478.3" fill="none" stroke="#1c1c1c" stroke-width="2" />
<path d="M735 461.7L773.3 462.6" fill="none" stroke="#161616" stroke-width="1.7" />
<path d="M740.8 503.3C742.6 503.6 748.9 502.8 751.7 505C754.5 507.2 756.4 512.8 757.5 516.7C758.6 520.6 759 524.7 758.3 528.3C757.6 531.9 755.8 535.8 753.3 538.3C750.8 540.8 746.3 542.9 743.3 543.3C740.2 543.7 736.4 541.2 735 540.8" fill="none" stroke="#1c1c1c" stroke-width="2" />
<path d="M745 506.7C745.7 508.4 748.7 513.4 749.2 516.7C749.8 520 749.3 523.7 748.3 526.7C747.3 529.8 745.5 533.1 743.3 535C741.1 536.9 736.4 537.8 735 538.3" fill="none" stroke="#1c1c1c" stroke-width="2" />
<path d="M736.7 525L760 527.5" fill="none" stroke="#262626" stroke-width="1.6" />
<path d="M728.3 553.3C729.4 553.9 733.8 554.8 735 556.7C736.2 558.7 736.3 562.2 735.8 565C735.2 567.8 733.5 571.1 731.7 573.3C729.9 575.5 726.1 577.5 725 578.3" fill="none" stroke="#262626" stroke-width="1.9" />
<path d="M728.3 556C728.8 557.5 732 561.8 731.5 565C731 568.2 726.1 573.3 725 575" fill="none" stroke="#3a3a3a" stroke-width="1.6" />
<path d="M708 584C710.3 582.5 717.2 578.2 722 575C726.8 571.8 732.3 568.3 737 565C741.7 561.7 747.8 556.7 750 555" fill="none" stroke="#555" stroke-width="1.3" />
<path d="M656.7 596.7C657.5 594.8 658.9 588.3 661.7 585C664.5 581.7 669.1 578.5 673.3 576.7C677.5 574.9 682.8 573.9 686.7 574.2C690.6 574.5 695 577.6 696.7 578.3" fill="none" stroke="#2e2e2e" stroke-width="1.8" />
<path d="M666.7 596.7C667.2 595 667.8 589.5 670 586.7C672.2 583.9 676.7 581.1 680 580C683.3 578.9 688.3 580 690 580" fill="none" stroke="#2e2e2e" stroke-width="1.8" />
<path d="M640 596.7C642.8 597.8 652.5 601.8 656.7 603.3C660.9 604.8 663.6 605.4 665 605.8" fill="none" stroke="#3a3a3a" stroke-width="1.7" />
<path d="M636 588C637.5 589 641.7 592.5 645 594C648.3 595.5 654.2 596.5 656 597" fill="none" stroke="#555" stroke-width="1.5" />
<path d="M665 605.8L666.5 597" fill="none" stroke="#3a3a3a" stroke-width="1.6" />
<path d="M618.3 560C619.7 558.6 623.4 553.7 626.7 551.7C630 549.8 634.7 548 638.3 548.3C641.9 548.6 645.6 550.5 648.3 553.3C650.9 556.1 653.4 560.8 654.2 565C655 569.2 654.5 574.4 653.3 578.3C652 582.2 647.8 586.6 646.7 588.3" fill="none" stroke="#2e2e2e" stroke-width="1.8" />
<path d="M623.3 563.3C624.7 562.2 628.9 557.5 631.7 556.7C634.5 555.9 637.9 556.4 640 558.3C642.1 560.2 643.8 564.4 644.2 568.3C644.6 572.2 643.8 577.8 642.5 581.7C641.2 585.6 637.7 590 636.7 591.7" fill="none" stroke="#1c1c1c" stroke-width="2" />
<path d="M630.8 563.3L625 573.3" fill="none" stroke="#161616" stroke-width="2.2" />
<path d="M626.7 588.3C628.4 589.1 633.4 591.9 636.7 593.3C640 594.7 645 596.1 646.7 596.7" fill="none" stroke="#555" stroke-width="1.5" />
<path d="M590 516.7C591.1 515.6 593.7 511.5 596.7 510C599.8 508.5 605.5 506.4 608.3 507.5C611.1 508.6 612.5 513 613.3 516.7C614.1 520.5 613.8 525.6 613.3 530C612.8 534.4 611.1 540 610 543.3C608.9 546.6 607.2 548.9 606.7 550" fill="none" stroke="#2e2e2e" stroke-width="1.8" />
<path d="M621.7 525C621.4 527 621.4 533.1 620 536.7C618.6 540.3 614.4 545 613.3 546.7" fill="none" stroke="#3a3a3a" stroke-width="1.6" />
<path d="M602 509C603.2 510 607.5 512.2 609 515C610.5 517.8 610.7 524.2 611 526" fill="none" stroke="#666" stroke-width="1.3" />
<path d="M580 550.8L626.7 520" fill="none" stroke="#161616" stroke-width="2.7" />
<path d="M597.3 370C598.2 371.2 602 374.3 602.5 377C603 379.7 601.5 383.4 600 386C598.5 388.6 596.1 390.7 593.3 392.5C590.5 394.3 585 396 583.3 396.7" fill="none" stroke="#2e2e2e" stroke-width="1.8" />
<path d="M594 373C594.6 374 597.3 376.8 597.5 379C597.7 381.2 596.4 383.9 595 386C593.6 388.1 590.2 390.8 589.2 391.7" fill="none" stroke="#555" stroke-width="1.5" />
<path d="M575.8 406.7C577.3 406.3 581.8 403.9 585 404.2C588.2 404.5 592.8 405.9 595 408.3C597.2 410.7 598.3 414.7 598.3 418.3C598.3 421.9 597.2 426.7 595 430C592.8 433.3 588.6 436.5 585 438.3C581.4 440.1 575.2 440.4 573.3 440.8" fill="none" stroke="#1c1c1c" stroke-width="2" />
<path d="M573.3 460C574.4 458.6 576.9 453.6 580 451.7C583.1 449.8 587.8 448 591.7 448.3C595.6 448.6 600.2 450.2 603.3 453.3C606.3 456.4 609.2 462 610 466.7C610.8 471.4 610 477.3 608.3 481.7C606.6 486.1 603.6 490.5 600 493.3C596.4 496.1 591.2 498 586.7 498.3C582.2 498.6 575.5 495.6 573.3 495" fill="none" stroke="#1c1c1c" stroke-width="2" />
<path d="M641.7 510.8L651.7 503.3" fill="none" stroke="#262626" stroke-width="1.7" />
<path d="M681.7 588.3L682.5 605" fill="none" stroke="#161616" stroke-width="2.5" />
<path d="M765 544.5L880 679.5L937.5 679.5" fill="none" stroke="#161616" stroke-width="2.5" />
<path d="M764 543L766.7 558.5L773.5 550Z" fill="#555" stroke="#3a3a3a" stroke-width="1.1" />
<path d="M957.5 658C961.7 657.6 965.8 659 969 661C972.2 663 975.6 666.3 977 670C978.4 673.7 978.3 679 977.5 683C976.7 687 974.9 691.2 972 694C969.1 696.8 964 699 960 699.5C956 700 951.4 698.9 948 697C944.6 695.1 941.2 691.7 939.5 688C937.8 684.3 937.2 679.1 938 675C938.8 670.9 940.8 666.3 944 663.5C947.2 660.7 953.3 658.4 957.5 658Z" fill="none" stroke="#1c1c1c" stroke-width="2.2" />
<path d="M705.5 704L757.5 772.5L816.3 773" fill="none" stroke="#161616" stroke-width="2.2" />
<path d="M704.5 702.5L706 715.5L712.5 709.5Z" fill="#555" stroke="#3a3a3a" stroke-width="1.1" />
<path d="M837.8 745C842.3 744.7 846.6 746.5 850 749C853.4 751.5 856.5 756 858 760C859.5 764 859.8 768.7 859.3 773C858.8 777.3 857.2 782.5 855 786C852.8 789.5 849.3 792.5 846 794C842.7 795.5 838.7 795.8 835 795C831.3 794.2 826.9 792 824 789C821.1 786 818.7 781.3 817.5 777C816.3 772.7 816.1 767.3 817 763C817.9 758.7 819.5 754 823 751C826.5 748 833.3 745.3 837.8 745Z" fill="none" stroke="#1c1c1c" stroke-width="2.2" />
<g filter="url(#pn)">
<path d="M641 215C641.1 217.1 640.8 219.5 640 221.6C639.2 223.6 637.8 225.8 636.2 227.3C634.6 228.7 632.3 229.9 630.3 230.4C628.4 230.9 626.2 230.9 624.4 230.3C622.5 229.7 620.5 228.3 619 227C617.6 225.7 616.5 224.3 615.7 222.3C614.8 220.3 614 217.2 614 215C614.1 212.8 614.9 211 615.9 209C616.8 207 618 204.6 619.5 203.1C621.1 201.6 623.4 200.3 625.3 199.8C627.2 199.2 629.4 199.5 631.1 200C632.9 200.5 634.4 201.3 635.8 202.8C637.2 204.3 638.8 206.9 639.7 208.9C640.5 210.9 641 212.8 641 215Z" fill="#bcbcbc" stroke="none" stroke-width="0" opacity="0.7"/>
<path d="M737.2 266.4C737.3 268.2 737.2 270.2 736.5 271.8C735.9 273.4 734.6 274.9 733.2 276C731.8 277.2 729.6 278.2 728 278.7C726.3 279.2 725 279.3 723.4 278.9C721.7 278.6 719.6 277.8 718.3 276.6C716.9 275.4 715.8 273.4 715.2 271.7C714.5 270.1 714.4 268.3 714.3 266.5C714.3 264.7 714.3 262.4 714.9 260.7C715.6 259.1 717.1 257.7 718.5 256.5C719.9 255.3 721.7 253.9 723.4 253.4C725.1 252.8 727.3 252.7 728.9 253.2C730.5 253.7 731.9 255.1 733.1 256.4C734.2 257.6 735.3 259 736 260.6C736.7 262.3 737.2 264.5 737.2 266.4Z" fill="#d8d8d8" stroke="none" stroke-width="0" opacity="0.6"/>
<path d="M513.6 329.2C513.7 331 513.7 333.1 513 334.7C512.3 336.3 510.9 337.8 509.3 339C507.8 340.1 505.7 341.3 503.7 341.7C501.8 342.2 499.4 342 497.6 341.6C495.7 341.2 493.9 340.7 492.4 339.6C490.8 338.5 489.2 336.5 488.2 334.8C487.3 333.1 486.5 331 486.5 329.2C486.5 327.4 487.4 325.6 488.4 323.9C489.4 322.1 490.9 319.9 492.4 318.6C493.8 317.4 495.6 316.9 497.4 316.5C499.1 316.1 501.2 316 503 316.3C504.9 316.6 507.1 317.3 508.6 318.5C510.2 319.7 511.5 321.9 512.3 323.6C513.1 325.4 513.5 327.3 513.6 329.2Z" fill="#c6c6c6" stroke="none" stroke-width="0" opacity="0.7"/>
<path d="M802.7 351.5C802.6 353.2 802.6 355.6 802 357.1C801.4 358.6 800.2 359.6 799.1 360.6C798.1 361.6 797.1 362.8 795.9 363.2C794.7 363.7 793.4 363.7 792.1 363.2C790.7 362.8 788.9 361.6 787.8 360.6C786.7 359.6 785.8 358.6 785.3 357.1C784.9 355.6 785 353.2 785 351.5C785 349.7 784.7 348 785.2 346.6C785.6 345.2 786.7 343.9 787.8 342.9C788.9 341.9 790.6 340.9 791.8 340.5C793.1 340.1 794.1 340.2 795.4 340.7C796.6 341.1 798.2 341.9 799.4 343C800.6 344.1 802 345.6 802.6 347.1C803.1 348.5 802.8 349.9 802.7 351.5Z" fill="#d8d8d8" stroke="none" stroke-width="0" opacity="0.6"/>
<path d="M492.3 423.6C492.4 425.6 492 427.3 491.4 429.1C490.8 430.9 489.8 433.3 488.6 434.7C487.4 436.1 485.9 437 484.3 437.4C482.7 437.8 480.6 437.5 479 437C477.3 436.5 475.7 435.8 474.4 434.5C473.1 433.2 472 431 471.3 429.1C470.7 427.2 470.4 425.2 470.4 423.2C470.5 421.1 471 418.8 471.6 417C472.3 415.2 473.1 413.5 474.3 412.3C475.5 411 477.2 410.1 478.7 409.8C480.2 409.4 481.8 409.9 483.4 410.3C485 410.7 487.1 411.1 488.3 412.2C489.6 413.4 490.3 415.4 491 417.3C491.6 419.2 492.2 421.7 492.3 423.6Z" fill="#a8a8a8" stroke="none" stroke-width="0" opacity="0.7"/>
<path d="M500.3 422.1C500.3 424.1 500.2 427.1 499.4 428.9C498.5 430.7 496.8 432 495.1 433.1C493.4 434.2 491.2 435 489.2 435.4C487.2 435.8 485.1 436 483.2 435.5C481.4 435.1 479.8 433.9 478.1 432.8C476.5 431.7 474.4 430.6 473.5 428.9C472.6 427.1 472.5 424.3 472.6 422.1C472.7 420 473.1 417.8 474 416.1C474.9 414.5 476.2 413.5 477.8 412.3C479.5 411.2 481.8 410 483.8 409.4C485.7 408.9 487.5 408.7 489.4 409.1C491.2 409.6 493.2 410.8 494.8 412.1C496.5 413.4 498.2 415.2 499.1 416.9C500 418.5 500.2 420.1 500.3 422.1Z" fill="#dcdcdc" stroke="none" stroke-width="0" opacity="0.5"/>
<path d="M846.2 455C846.2 457.1 846.2 460.1 845.6 462.1C844.9 464.1 843.8 465.7 842.5 467C841.3 468.3 839.7 469.3 838.1 469.8C836.4 470.2 834.2 470.1 832.6 469.5C830.9 469 829.6 467.6 828.3 466.2C827 464.9 825.6 463.2 824.9 461.4C824.2 459.6 823.9 457.6 824 455.5C824.2 453.4 825 450.8 825.8 448.9C826.6 447.1 827.6 445.7 828.9 444.4C830.1 443 831.9 441.5 833.3 440.9C834.7 440.3 836 440.4 837.5 440.8C838.9 441.2 840.6 442.2 841.9 443.6C843.2 445 844.7 447.5 845.4 449.4C846.1 451.3 846.1 452.9 846.2 455Z" fill="#a8a8a8" stroke="none" stroke-width="0" opacity="0.7"/>
<path d="M854.9 454.3C854.8 456.4 854.3 458.9 853.3 460.8C852.3 462.7 850.3 464.3 848.8 465.6C847.2 466.9 845.8 468 843.9 468.5C842 468.9 839.5 468.6 837.4 468.2C835.3 467.7 832.8 467 831.1 465.7C829.4 464.5 828.1 462.7 827.3 460.8C826.5 458.9 826.5 456.2 826.5 454.2C826.5 452.2 826.5 450.5 827.4 448.6C828.2 446.7 830.1 444.3 831.6 442.8C833.2 441.4 834.7 440.4 836.8 440.1C838.8 439.7 841.9 440.2 843.9 440.7C845.9 441.3 847.2 442.2 848.8 443.5C850.4 444.8 852.6 446.5 853.6 448.3C854.6 450.1 854.9 452.2 854.9 454.3Z" fill="#dcdcdc" stroke="none" stroke-width="0" opacity="0.5"/>
<path d="M498.8 491.3C498.8 493.4 498.1 495.4 497.5 497.3C497 499.3 496.6 501.7 495.4 503.2C494.3 504.7 492.3 505.8 490.7 506.4C489.1 506.9 487.3 506.9 485.9 506.3C484.4 505.7 483.2 504.2 482 502.7C480.7 501.3 479.2 499.5 478.4 497.6C477.7 495.7 477.4 493.5 477.4 491.4C477.4 489.2 477.8 486.6 478.5 484.7C479.1 482.8 480.1 481.3 481.3 480C482.5 478.6 484.2 477.1 485.8 476.6C487.4 476.1 489.2 476.5 490.8 477.1C492.3 477.6 493.7 478.7 494.9 480C496.1 481.3 497.3 482.9 497.9 484.8C498.6 486.7 498.9 489.3 498.8 491.3Z" fill="#a8a8a8" stroke="none" stroke-width="0" opacity="0.7"/>
<path d="M507.1 489.8C507.1 491.9 506.6 494.3 505.6 496.3C504.7 498.4 503 500.7 501.4 502C499.8 503.4 497.9 504.1 496 504.5C494.2 505 492.4 505.1 490.5 504.6C488.5 504.2 486.1 503 484.5 501.8C483 500.5 481.9 498.8 481 496.9C480.1 495 479.2 492.6 479.1 490.4C479.1 488.2 479.7 485.6 480.7 483.7C481.6 481.8 483.4 480.1 485 478.9C486.6 477.6 488.3 476.8 490.3 476.3C492.3 475.8 494.8 475.5 496.8 476C498.7 476.4 500.5 477.5 502 478.9C503.5 480.2 504.9 482.3 505.7 484.1C506.6 486 507.1 487.8 507.1 489.8Z" fill="#dcdcdc" stroke="none" stroke-width="0" opacity="0.5"/>
<path d="M855.5 555.5C855.6 557.6 855.1 560.2 854.5 562.1C853.9 564 852.9 565.9 851.7 567C850.6 568.2 849.2 568.7 847.6 569.2C846.1 569.6 844 570.3 842.5 569.9C840.9 569.4 839.7 567.7 838.4 566.3C837.1 564.9 835.5 563.5 834.7 561.6C833.9 559.8 833.6 557.3 833.6 555.2C833.6 553.2 833.9 551.2 834.7 549.5C835.4 547.7 837.1 546 838.4 544.7C839.6 543.5 840.6 542.4 842.1 541.8C843.6 541.2 845.7 540.7 847.4 541.2C849 541.7 850.8 543.4 851.9 544.8C853.1 546.2 853.6 548 854.2 549.8C854.8 551.5 855.5 553.5 855.5 555.5Z" fill="#a8a8a8" stroke="none" stroke-width="0" opacity="0.7"/>
<path d="M863.6 554.5C863.7 556.6 863.7 559.1 862.8 560.9C861.9 562.7 859.8 564.1 858.1 565.3C856.5 566.5 854.9 567.5 852.9 567.9C851 568.3 848.3 568.4 846.4 567.9C844.5 567.4 842.9 566.1 841.3 564.9C839.8 563.7 838.3 562.2 837.3 560.5C836.3 558.7 835.4 556.3 835.4 554.3C835.4 552.3 836.5 550.2 837.4 548.5C838.3 546.8 839.1 545.3 840.7 544.1C842.3 542.9 845 542 847 541.4C849 540.8 850.7 540.3 852.5 540.7C854.3 541.1 856.4 542.7 858 543.9C859.6 545.1 861.2 546.3 862.1 548.1C863 549.9 863.5 552.4 863.6 554.5Z" fill="#dcdcdc" stroke="none" stroke-width="0" opacity="0.5"/>
<path d="M533.5 560.9C533.5 562.9 533.5 564.4 532.9 566.2C532.2 568 530.6 570.4 529.4 571.7C528.2 573 527.2 573.8 525.8 574.1C524.4 574.4 522.3 574 520.9 573.5C519.5 573 518.6 572.3 517.4 571.2C516.3 570.1 514.7 568.6 514 566.9C513.4 565.2 513.6 562.8 513.6 560.8C513.6 558.8 513.5 556.7 514 554.9C514.6 553.1 515.6 551.4 516.8 550.1C518 548.8 519.7 547.3 521.2 546.9C522.7 546.5 524.4 547.1 525.8 547.5C527.2 547.9 528.4 548.2 529.5 549.4C530.7 550.5 531.9 552.3 532.6 554.3C533.2 556.2 533.4 558.9 533.5 560.9Z" fill="#a8a8a8" stroke="none" stroke-width="0" opacity="0.7"/>
<path d="M541.1 559.2C541 561 540.5 563.3 539.7 565C538.9 566.8 537.7 568.6 536.4 569.8C535 571 533.4 572 531.6 572.4C529.8 572.8 527.5 572.8 525.6 572.3C523.7 571.8 521.8 570.8 520.3 569.5C518.8 568.3 517.3 566.5 516.6 564.8C515.8 563.2 515.8 561.4 515.8 559.6C515.8 557.7 515.7 555.5 516.5 553.6C517.4 551.8 519.3 549.8 520.9 548.6C522.4 547.4 524.2 546.6 525.9 546.3C527.7 546 529.6 546.3 531.4 546.7C533.1 547.2 535 547.8 536.5 549C538 550.2 539.6 552.5 540.4 554.2C541.1 555.8 541.2 557.3 541.1 559.2Z" fill="#dcdcdc" stroke="none" stroke-width="0" opacity="0.5"/>
<path d="M596.8 645.8C596.8 648.1 596.7 650.5 596.1 652.5C595.4 654.4 594.2 656.3 592.9 657.7C591.6 659 589.9 659.9 588.4 660.5C586.8 661.1 585.2 661.6 583.8 661.1C582.3 660.6 580.9 658.9 579.8 657.5C578.6 656.1 577.3 654.6 576.7 652.7C576.1 650.7 576.4 648 576.5 645.7C576.5 643.3 576.3 640.5 576.9 638.4C577.5 636.3 578.6 634.5 579.8 633.2C581 631.8 582.4 630.5 583.8 630.1C585.3 629.7 587 630.1 588.6 630.6C590.2 631.1 592.3 631.8 593.5 633.2C594.6 634.7 595.1 637 595.6 639.1C596.2 641.2 596.7 643.6 596.8 645.8Z" fill="#a8a8a8" stroke="none" stroke-width="0" opacity="0.7"/>
<path d="M604.7 644.4C604.6 646.5 603.9 649 603.1 651C602.3 653.1 601.3 655.1 599.9 656.5C598.4 657.9 596.2 659 594.2 659.5C592.2 659.9 589.9 659.8 588 659.2C586.1 658.7 584.2 657.8 582.7 656.4C581.2 655 579.7 652.7 578.9 650.7C578.1 648.7 577.8 646.4 577.9 644.2C578 642.1 578.6 639.8 579.5 637.9C580.4 635.9 581.8 634 583.4 632.6C584.9 631.3 586.9 630.5 588.7 629.9C590.6 629.4 592.4 629 594.4 629.4C596.3 629.7 598.8 630.7 600.4 632.1C601.9 633.6 603.1 635.9 603.8 638C604.6 640 604.9 642.2 604.7 644.4Z" fill="#dcdcdc" stroke="none" stroke-width="0" opacity="0.5"/>
<path d="M807.2 637.3C807.2 639.1 807.5 640.6 807 642.1C806.5 643.6 805.3 645.3 804 646.3C802.7 647.4 800.7 647.9 799.2 648.3C797.7 648.7 796.4 648.9 795 648.6C793.7 648.3 792.3 647.4 791.2 646.4C790 645.3 788.8 643.9 788.1 642.4C787.4 640.9 787.2 639 787.2 637.2C787.1 635.4 787.2 633.1 787.7 631.5C788.3 630 789.4 628.7 790.5 627.8C791.6 626.9 793.1 626.4 794.6 626.1C796.1 625.7 798.1 625.5 799.7 625.9C801.2 626.2 802.7 627.2 803.9 628.2C805 629.1 806 630 806.6 631.5C807.1 633 807.1 635.6 807.2 637.3Z" fill="#cfcfcf" stroke="none" stroke-width="0" opacity="0.7"/>
<path d="M704.3 688.5C704.3 690.7 703.7 692.9 703 694.6C702.3 696.4 701.4 698 700.2 699.2C699.1 700.5 697.7 701.7 696.1 702.2C694.5 702.7 692.2 702.7 690.7 702.2C689.2 701.7 688.2 700.5 687.2 699.4C686.1 698.2 684.9 696.9 684.2 695.1C683.5 693.2 683 690.3 683 688.2C682.9 686 683.3 684 684 682.2C684.7 680.3 686 678.5 687.2 677.1C688.4 675.7 689.9 674.3 691.3 673.7C692.7 673.2 694 673.4 695.5 673.9C697 674.4 699.1 675.5 700.3 676.8C701.6 678 702.4 679.5 703.1 681.5C703.7 683.5 704.3 686.4 704.3 688.5Z" fill="#a8a8a8" stroke="none" stroke-width="0" opacity="0.7"/>
<path d="M711.7 687.1C711.6 689.2 711.7 691.8 710.9 693.6C710.2 695.5 708.7 696.9 707.2 698.2C705.6 699.4 703.5 700.6 701.5 701.1C699.6 701.5 697.3 701.2 695.4 700.7C693.6 700.2 691.9 699.2 690.4 698.1C689 696.9 687.7 695.7 686.7 693.9C685.7 692.1 684.4 689.3 684.4 687.3C684.4 685.2 685.6 683.5 686.6 681.6C687.5 679.7 688.5 677.3 690 676C691.4 674.7 693.3 674.3 695.2 673.9C697.1 673.5 699.3 673.2 701.2 673.6C703.1 674 705 675.1 706.6 676.3C708.3 677.5 710.4 679 711.2 680.8C712 682.6 711.7 684.9 711.7 687.1Z" fill="#dcdcdc" stroke="none" stroke-width="0" opacity="0.5"/>
</g>
<path d="M649.8 214.3C649.8 217 649.3 220 648 222.4C646.7 224.9 644.3 227.5 642.1 229C639.9 230.5 637.6 231 634.9 231.5C632.3 232 628.7 232.6 626.1 232C623.4 231.5 621.2 230 619.1 228.3C617.1 226.6 614.8 224.3 613.6 222C612.4 219.7 612 217.3 612 214.7C612 212.2 612.2 209.2 613.4 206.7C614.7 204.2 617.3 201.3 619.6 199.6C621.9 198 624.5 197.4 627.2 196.8C629.8 196.3 632.9 195.8 635.4 196.3C637.9 196.8 640.1 198.2 642.2 199.9C644.4 201.6 646.9 204.1 648.2 206.5C649.4 208.9 649.8 211.7 649.8 214.3Z" fill="none" stroke="#222" stroke-width="2" />
<path d="M646.7 220.9C645.8 222 643.7 225.6 641.3 227.4C638.9 229.2 635.3 231.1 632.3 231.6C629.4 232.2 626.2 231.8 623.6 230.6C621 229.3 618.4 226.6 616.8 224.2C615.2 221.8 614.2 218.7 613.8 216C613.4 213.3 613.2 210.5 614.4 208C615.5 205.6 619.6 202.3 620.6 201.1" fill="none" stroke="#555" stroke-width="1.1" />
<path d="M623.3 204.3C622.9 206 621 211 621 214.3C621 217.6 622.7 222.6 623 224.3" fill="none" stroke="#555" stroke-width="1.1" />
<path d="M626.8 204.3C626.4 206 624.5 211 624.5 214.3C624.5 217.6 626.2 222.6 626.5 224.3" fill="none" stroke="#555" stroke-width="1.1" />
<path d="M630.3 204.3C629.9 206 628 211 628 214.3C628 217.6 629.7 222.6 630 224.3" fill="none" stroke="#555" stroke-width="1.1" />
<path d="M613.7 205.3C613.9 206.8 614.3 211.3 614.7 214.3C615.1 217.3 615.9 221.8 616.2 223.3" fill="none" stroke="#262626" stroke-width="2.5" />
<path d="M748.7 266.5C748.7 269.2 747.4 271.5 746.2 273.8C745 276.1 743.7 278.7 741.5 280.4C739.4 282.1 736 283.5 733.1 284.2C730.2 285 726.9 285.3 724.2 284.7C721.5 284.1 719.3 282.3 717.2 280.6C715 278.8 712.6 276.5 711.3 274.1C710 271.7 709.4 268.9 709.3 266.2C709.2 263.5 709.6 260.1 710.7 257.8C711.9 255.5 713.9 253.9 716.2 252.2C718.5 250.6 721.5 248.4 724.4 247.8C727.3 247.2 730.9 248.2 733.6 248.8C736.4 249.3 738.9 249.8 741 251.3C743 252.8 744.8 255.2 746.1 257.7C747.4 260.3 748.7 263.8 748.7 266.5Z" fill="none" stroke="#222" stroke-width="2" />
<path d="M745.8 272.9C744.8 274.1 742.3 278.2 739.8 280.2C737.4 282.1 734.1 284.1 731.2 284.5C728.3 284.9 725.1 283.8 722.3 282.5C719.5 281.2 716.2 279.2 714.3 276.7C712.3 274.3 711.1 270.9 710.6 267.9C710.1 264.9 710.1 261.3 711.4 258.6C712.7 255.9 717.2 252.9 718.4 251.8" fill="none" stroke="#555" stroke-width="1.1" />
<path d="M721.3 256.1C720.9 257.8 719 262.9 719 266.3C719 269.7 720.7 274.8 721 276.5" fill="none" stroke="#555" stroke-width="1.1" />
<path d="M724.8 256.1C724.4 257.8 722.5 262.9 722.5 266.3C722.5 269.7 724.2 274.8 724.5 276.5" fill="none" stroke="#555" stroke-width="1.1" />
<path d="M728.3 256.1C727.9 257.8 726 262.9 726 266.3C726 269.7 727.7 274.8 728 276.5" fill="none" stroke="#555" stroke-width="1.1" />
<path d="M516.4 327.4C516.6 329.8 515.8 331.7 514.4 333.9C513 336.2 510.2 339.1 508 340.8C505.8 342.4 503.9 343.4 501.3 343.8C498.7 344.2 495.1 343.7 492.3 343.3C489.5 342.8 486.4 342.4 484.3 341C482.1 339.6 480.5 337.3 479.4 334.9C478.3 332.5 477.8 329.3 477.7 326.7C477.5 324.1 477.4 321.2 478.6 319.1C479.7 316.9 482.1 315.1 484.4 313.7C486.8 312.2 490 310.9 492.7 310.4C495.5 309.9 498.4 309.9 501 310.5C503.6 311 506.5 312 508.5 313.5C510.6 315.1 512.1 317.5 513.4 319.8C514.7 322.1 516.3 325.1 516.4 327.4Z" fill="none" stroke="#222" stroke-width="2" />
<path d="M512.7 334.5C511.9 335.5 510.4 339 508.1 340.5C505.9 341.9 502 342.7 499 343C496.1 343.3 493 343.6 490.2 342.3C487.4 341.1 484.3 338 482.4 335.7C480.5 333.4 479.2 331.2 478.8 328.5C478.4 325.8 478.6 322.1 479.7 319.5C480.9 316.9 484.6 313.9 485.6 312.8" fill="none" stroke="#555" stroke-width="1.1" />
<path d="M812.8 352C812.8 354.2 811.5 356.2 810.4 358.3C809.4 360.4 808.1 363.2 806.4 364.7C804.7 366.2 802.3 366.7 800.1 367.3C798 367.9 795.8 368.7 793.6 368.1C791.4 367.5 788.7 365.5 786.9 363.9C785.1 362.3 783.6 360.8 782.7 358.7C781.9 356.7 781.5 353.7 781.6 351.4C781.7 349.2 782.4 347.2 783.3 345.1C784.2 342.9 785.4 340.3 787.2 338.8C789 337.2 791.7 336.3 793.9 335.8C796.2 335.3 798.6 335.1 800.6 335.7C802.6 336.3 804.4 337.8 806.1 339.4C807.7 341.1 809.3 343.2 810.4 345.3C811.5 347.4 812.8 349.9 812.8 352Z" fill="none" stroke="#222" stroke-width="2" />
<path d="M810 356.9C809.2 358 806.8 361.6 804.9 363.3C802.9 365.1 800.6 367 798.2 367.4C795.8 367.7 792.8 366.4 790.5 365.5C788.2 364.5 785.9 363.7 784.5 361.6C783.1 359.6 782.5 355.9 782.3 353.2C782.1 350.6 782.1 348 783.2 345.9C784.3 343.8 787.8 341.6 788.7 340.7" fill="none" stroke="#555" stroke-width="1.1" />
<path d="M503.1 422.4C503 424.9 502.2 427.5 501 429.7C499.8 431.8 497.9 433.7 496 435.2C494 436.7 491.4 438.3 489.1 438.9C486.8 439.5 484.5 439.2 482.2 438.6C479.9 438 477.3 436.8 475.2 435.4C473.1 434 470.8 432.4 469.7 430.3C468.5 428.1 468.5 424.9 468.5 422.4C468.4 419.9 468.3 417.2 469.3 415.1C470.3 413 472.5 411.3 474.5 409.7C476.5 408.2 478.7 406.5 481.3 405.8C483.8 405 487.4 404.7 489.8 405.4C492.3 406 494.3 408 496.2 409.6C498.2 411.1 500.4 412.4 501.5 414.6C502.6 416.7 503.2 419.8 503.1 422.4Z" fill="none" stroke="#222" stroke-width="2" />
<path d="M500.1 428C499.4 429.2 498 433.4 496 435.2C493.9 437.1 490.5 438.8 487.7 439.1C484.9 439.3 481.6 437.9 479.2 436.9C476.8 435.8 474.9 434.6 473.2 432.5C471.5 430.5 469.5 427.3 469 424.6C468.6 421.8 469.5 418.3 470.5 415.8C471.4 413.3 474.2 410.7 474.9 409.7" fill="none" stroke="#555" stroke-width="1.1" />
<path d="M857 454C857 456.7 856.3 459.7 855.3 462C854.2 464.3 852.9 466.2 850.9 467.8C849 469.5 846.2 471.2 843.6 471.9C841.1 472.6 838.3 472.6 835.7 472C833.2 471.3 830.4 469.7 828.3 468C826.2 466.3 824.1 464.2 823 461.9C822 459.5 821.9 456.3 821.8 453.8C821.8 451.3 821.9 449.2 822.9 446.9C823.9 444.6 825.9 441.5 827.9 439.9C829.9 438.2 832.3 437.4 834.8 437C837.3 436.6 840.4 436.9 843.1 437.5C845.7 438.2 848.9 439.5 850.9 441C852.9 442.4 854 443.9 855.1 446.1C856.1 448.2 856.9 451.3 857 454Z" fill="none" stroke="#222" stroke-width="2" />
<path d="M854.1 460.5C853.3 461.7 851.8 466 849.6 467.7C847.4 469.4 843.8 470.3 841 470.7C838.2 471.1 835.3 471 832.8 470.1C830.3 469.1 827.7 467.4 826.1 465.1C824.5 462.7 823.5 458.9 823.2 456C822.9 453.2 823.5 450.3 824.6 447.8C825.6 445.2 828.7 442 829.5 440.8" fill="none" stroke="#555" stroke-width="1.1" />
<path d="M831.8 444.5C831.4 446.1 829.5 451 829.5 454.3C829.5 457.6 831.2 462.5 831.5 464.1" fill="none" stroke="#555" stroke-width="1.1" />
<path d="M835.3 444.5C834.9 446.1 833 451 833 454.3C833 457.6 834.7 462.5 835 464.1" fill="none" stroke="#555" stroke-width="1.1" />
<path d="M838.8 444.5C838.4 446.1 836.5 451 836.5 454.3C836.5 457.6 838.2 462.5 838.5 464.1" fill="none" stroke="#555" stroke-width="1.1" />
<path d="M509.4 490.9C509.4 493.5 508.8 495.6 507.8 497.9C506.8 500.2 505.2 503.2 503.4 504.8C501.5 506.4 499.2 507 496.7 507.7C494.2 508.3 490.9 509 488.4 508.5C486 508.1 484 506.9 482 505.1C480 503.3 477.5 500.5 476.3 498C475 495.5 474.5 492.5 474.6 489.9C474.8 487.3 476.1 484.8 477.4 482.5C478.6 480.1 480.2 477.5 482.1 475.8C484 474.2 486.6 472.9 488.9 472.4C491.2 471.9 493.4 472.3 495.8 472.8C498.3 473.3 501.5 473.9 503.6 475.5C505.6 477.1 506.9 479.9 507.9 482.5C508.9 485.1 509.4 488.3 509.4 490.9Z" fill="none" stroke="#222" stroke-width="2" />
<path d="M506.7 496.2C505.9 497.4 503.6 501.3 501.4 503.1C499.2 504.9 496 506.7 493.5 507.2C490.9 507.7 488.4 507.1 485.9 505.9C483.4 504.8 480.1 502.7 478.6 500.5C477 498.3 476.8 495.4 476.6 492.6C476.4 489.7 476.4 486.2 477.5 483.6C478.6 481 482.3 478.2 483.3 477.2" fill="none" stroke="#555" stroke-width="1.1" />
<path d="M866.1 554.2C866.1 556.8 865.4 560.3 864.2 562.6C863.1 564.9 861.4 566.7 859.4 568.2C857.5 569.6 854.8 570.7 852.5 571.4C850.2 572 847.8 572.7 845.4 572.1C842.9 571.5 839.8 569.5 837.8 567.7C835.8 566 834.6 563.8 833.4 561.7C832.2 559.6 830.9 557.4 830.8 555C830.7 552.6 831.9 549.6 833 547.3C834.2 545.1 835.9 543.1 837.8 541.4C839.8 539.7 842.5 537.8 844.9 537.1C847.3 536.5 849.6 536.9 852.1 537.6C854.6 538.3 857.8 539.8 859.8 541.4C861.8 543 862.9 545 864 547.1C865 549.2 866 551.7 866.1 554.2Z" fill="none" stroke="#222" stroke-width="2" />
<path d="M863.6 560.7C862.7 561.8 860.4 565.3 858.2 567C856 568.8 853.2 570.9 850.5 571.3C847.8 571.7 844.3 570.4 841.9 569.4C839.5 568.4 837.5 567.4 835.9 565.2C834.4 563 832.8 558.6 832.5 555.9C832.2 553.3 833.1 551.6 834.2 549C835.3 546.5 838.4 542.3 839.3 540.9" fill="none" stroke="#555" stroke-width="1.1" />
<path d="M841.3 544.9C840.9 546.5 839 551.3 839 554.5C839 557.7 840.7 562.5 841 564.1" fill="none" stroke="#555" stroke-width="1.1" />
<path d="M844.8 544.9C844.4 546.5 842.5 551.3 842.5 554.5C842.5 557.7 844.2 562.5 844.5 564.1" fill="none" stroke="#555" stroke-width="1.1" />
<path d="M848.3 544.9C847.9 546.5 846 551.3 846 554.5C846 557.7 847.7 562.5 848 564.1" fill="none" stroke="#555" stroke-width="1.1" />
<path d="M543.6 559.9C543.7 562.3 543.5 564.3 542.5 566.4C541.4 568.5 539.2 571 537.3 572.5C535.4 574.1 533.4 575.2 531.1 575.7C528.8 576.2 525.7 576 523.4 575.6C521.2 575.1 519.5 574.6 517.7 573.1C515.8 571.7 513.4 569.2 512.4 566.9C511.3 564.5 511.4 561.5 511.6 558.9C511.8 556.4 512.3 553.8 513.3 551.8C514.3 549.7 515.7 547.9 517.5 546.4C519.3 544.9 521.8 543.4 524 542.9C526.3 542.4 528.8 542.6 531 543.2C533.3 543.8 535.7 545.1 537.5 546.6C539.3 548 541 549.9 542 552.1C543 554.4 543.5 557.5 543.6 559.9Z" fill="none" stroke="#222" stroke-width="2" />
<path d="M540.6 565.2C540 566.3 538.4 569.8 536.5 571.5C534.6 573.2 531.8 575.2 529.3 575.5C526.8 575.9 523.8 574.8 521.5 573.6C519.2 572.5 517 570.7 515.4 568.7C513.9 566.6 512.4 564 512 561.4C511.6 558.9 512 555.8 513.2 553.4C514.3 550.9 517.9 547.7 518.9 546.6" fill="none" stroke="#555" stroke-width="1.1" />
<path d="M607.8 644.1C607.9 647 607.2 650.8 606.1 653.4C605 656.1 603.3 658.2 601.3 659.9C599.2 661.6 596.3 663.2 593.9 663.8C591.5 664.4 589 664.5 586.8 663.8C584.5 663 582.4 660.8 580.5 659.1C578.7 657.4 576.9 655.8 575.7 653.3C574.5 650.9 573.2 647.3 573.2 644.3C573.2 641.4 574.5 638.3 575.7 635.8C576.9 633.2 578.6 631 580.5 629.2C582.4 627.5 584.9 625.8 587.1 625.4C589.4 624.9 592 625.6 594.2 626.3C596.5 626.9 598.7 627.6 600.6 629.2C602.5 630.8 604.4 633.5 605.6 636C606.8 638.4 607.8 641.2 607.8 644.1Z" fill="none" stroke="#222" stroke-width="2" />
<path d="M604.4 649.9C603.5 651.3 600.9 656.4 598.7 658.5C596.6 660.6 594.2 662.2 591.6 662.7C588.9 663.2 585.3 662.6 582.8 661.5C580.3 660.3 578 658.1 576.7 655.8C575.3 653.5 574.8 650.4 574.8 647.5C574.8 644.7 575.5 641.4 576.6 638.7C577.7 636 580.7 632.6 581.5 631.4" fill="none" stroke="#555" stroke-width="1.1" />
<path d="M814.3 636.3C814.4 638.7 813.7 640.8 812.7 642.8C811.7 644.8 810.2 646.9 808.3 648.4C806.4 649.9 804 651.1 801.5 651.8C799.1 652.5 796.1 653.1 793.6 652.7C791.2 652.2 788.7 650.8 786.7 649.1C784.7 647.4 782.8 644.8 781.6 642.6C780.4 640.3 779.5 637.9 779.5 635.6C779.6 633.3 780.8 630.8 781.9 628.8C783.1 626.8 784.7 625.1 786.6 623.6C788.4 622 790.6 620.3 793 619.6C795.5 618.9 798.9 618.8 801.3 619.3C803.7 619.9 805.6 621.4 807.4 622.9C809.3 624.5 811.2 626.4 812.3 628.7C813.5 630.9 814.3 634 814.3 636.3Z" fill="none" stroke="#222" stroke-width="2" />
<path d="M811.6 642.2C810.9 643.2 809.3 646.6 807.3 648.2C805.3 649.8 802.4 651.1 799.6 651.5C796.8 651.9 793.1 651.8 790.6 650.6C788 649.5 786.2 646.8 784.6 644.7C783 642.5 781.2 640.1 780.9 637.7C780.6 635.3 781.8 632.8 782.9 630.3C784 627.9 786.8 624.3 787.6 623.1" fill="none" stroke="#555" stroke-width="1.1" />
<path d="M714.2 687.8C714.1 690.4 713.3 692.8 712.3 695C711.2 697.2 709.9 699.2 708 700.8C706.1 702.5 703.2 704.3 700.8 704.9C698.3 705.5 695.4 705.3 693.1 704.6C690.9 703.9 689.3 702.3 687.4 700.7C685.5 699.1 683 697.3 681.8 695.1C680.7 692.9 680.4 690.1 680.5 687.5C680.6 684.8 681.5 681.6 682.6 679.2C683.6 676.9 684.9 674.7 686.7 673.2C688.4 671.8 690.7 671 693.2 670.5C695.7 670 699.2 669.7 701.6 670.3C704 670.9 705.6 672.3 707.5 673.9C709.4 675.4 712 677.3 713.1 679.6C714.2 681.9 714.3 685.2 714.2 687.8Z" fill="none" stroke="#222" stroke-width="2" />
<path d="M712.4 693.5C711.4 694.5 708.9 698.1 706.7 699.7C704.5 701.2 701.7 702.4 699.1 703C696.4 703.5 693 703.7 690.6 702.9C688.2 702.1 686.1 700.3 684.7 698.1C683.2 695.9 682.3 692.3 682 689.5C681.8 686.6 682 683.6 683.1 681.1C684.1 678.6 687.6 675.6 688.5 674.5" fill="none" stroke="#555" stroke-width="1.1" />
<path d="M634.5 238L637.5 255M637.5 260L638.3 266.3M638.8 277.5L640 302.5M640 310l0.8 0.4M640 316L640 322M717.5 292.5L714.5 299M714.5 299L712.5 307.5M710.5 316.3L709.5 321.3M708 327.5l0.8 0.4M522.5 336.3L532.5 340M543.8 348.8L547.5 351.3M557.5 358.8L562.5 362.5M570 368.8L580 378.8M781.3 372.5L776.3 378.8M770 382.5L763.8 387.5M750 393.8L747.5 396.3M512.5 420L523.8 420M536.3 421.3L540 420.8M550 420.8L558.8 420M567.5 421.3L580 420M783.8 463.8L788.8 462.5M797.5 462L807.5 460M815 459.5L820 458.8M512.5 487L527.5 484.5M535.8 482L539.5 481M550.5 478.3L565.5 474.5M575 473.4L588.8 470.6M770 531.3L777.5 532.5M788.8 534.5L802.5 535.5M810 538.8L812.5 539.5M817.5 540.8L821.3 542M547.5 550L562.5 543.8M575 537.5L578.8 536.3M590 531.3L595 528.8M601.3 526.3L605 523.8M603.8 623.8L611.3 610M615 600l0.8 0.4M620 587.5L626.3 575M685 612.5L685.8 617.5M686.3 637.5L687.5 655M736.3 590L740 592M753.8 606.3L762.5 613.8M765 618.8L770 621.3" fill="none" stroke="#1e1e1e" stroke-width="2" stroke-linecap="round"/>
<path d="M548.8 570L555 567.5M565 561.3L570 558.8M666.3 492.5L673.8 487.5M690 468.8L697.5 466.3M767.5 423.8L788.8 408.8M801.3 397.5L808.8 393.8M820 386.3L825 383.8M832 379.5l0.8 0.4M843.8 366.3L871.3 351.3M921.3 308.8L933.8 298.8M943.8 290L953.8 282.5M967 276.3l0.8 0.4M1043.8 231.3L1057.5 222.5M1070 213.8L1081.3 206.3M1100 196.3L1112.5 188.8M1123.8 181.3L1136.3 172.5" fill="none" stroke="#1e1e1e" stroke-width="2.8" stroke-linecap="round"/>
<path d="M871.3 351.3L907 321" fill="none" stroke="#666" stroke-width="1" />
<path d="M1153.5 612.2L1137.9 628.5L1154.5 628M1154.2 618.1L1145.5 638.5" fill="none" stroke="#1e1e1e" stroke-width="2.1" />
<path d="M1216.3 629.5L1221.8 608.3M1221.7 608.1C1222.8 608.2 1226.9 607.8 1228.3 608.8C1229.7 609.7 1230.4 612.2 1230.1 613.6C1229.7 615 1228.1 616.3 1226.1 617.3C1224.2 618.4 1219.5 619.5 1218.2 619.9M1222.5 618.3L1227.3 628.3M1245.4 609.4C1245.6 609.9 1246 611 1246.2 612.4C1246.4 613.8 1246.8 615.9 1246.7 617.7C1246.6 619.5 1246.6 621.6 1245.8 623.2C1245 624.8 1242.9 626.4 1241.9 627.6C1240.9 628.7 1240.8 629.8 1239.8 629.9C1238.8 630 1236.7 629 1235.8 628.2C1234.8 627.3 1234.2 625.9 1234.1 624.7C1234 623.5 1234.7 622.4 1235.1 620.9C1235.5 619.3 1235.7 617.3 1236.4 615.5C1237.1 613.7 1238.3 611.6 1239.2 610.3C1240.1 609 1240.7 608.1 1241.7 607.9C1242.8 607.6 1244.9 608.5 1245.5 608.6M1252.9 607.3L1248.3 629L1258.8 627.8M1268.7 609L1262.3 629.7L1273.4 629.6M1283.1 607.7L1290.9 607.1M1287.6 607.3L1280.7 628.3M1277.8 629.4L1284.7 628.3M1289.7 629C1290.7 625.6 1293.8 608.4 1295.7 608.5C1297.6 608.6 1299.2 629.8 1301.1 629.6C1303 629.5 1306.1 611.2 1307.1 607.6M1321.7 611.5C1321.2 611 1319.7 608.8 1318.5 608.8C1317.3 608.7 1315.9 609.6 1314.4 611.3C1312.9 612.9 1310.6 616.1 1309.8 618.6C1309 621.2 1309 625 1309.8 626.7C1310.5 628.3 1312.9 628.7 1314.4 628.7C1315.9 628.7 1318 628 1319 626.5C1319.9 625.1 1320.6 621.2 1320.1 620.2C1319.7 619.2 1317 620.5 1316.4 620.5M1320.4 621.1L1318 630.3" fill="none" stroke="#1e1e1e" stroke-width="2.2" />
<path d="M1351.5 615.2C1349.7 615.2 1343.1 612.5 1340.6 615.2C1338.1 617.8 1335.4 628.4 1336.6 630.9C1337.9 633.5 1346.1 630.6 1348 630.5M1338.7 622.7L1347.5 622.6M1355.7 614.3L1351.4 629.8L1362.1 629.9M1378.9 614.4C1377.2 614.4 1370.9 612 1368.7 614.5C1366.5 617.1 1364.3 627.2 1365.7 629.7C1367.1 632.3 1375.2 630 1377.1 630M1367 622.8L1375.1 621.9M1380.9 631C1381.5 628.5 1383.6 616.6 1384.8 615.7C1386.1 614.9 1386.2 625.9 1388.4 625.8C1390.5 625.7 1396.7 614.2 1397.8 615.1C1398.9 616 1395.4 628.7 1394.9 631.4M1413.7 615.2C1411.9 615.3 1405.1 613 1402.7 615.7C1400.4 618.3 1398.2 628.6 1399.6 631C1401 633.4 1409.1 630.5 1411 630.4M1401.7 623.3L1409.6 622.4M1414.8 631C1415.5 628.4 1417.2 615.5 1419.1 615.5C1420.9 615.4 1423.9 630.7 1425.7 630.7C1427.5 630.7 1429 618 1429.7 615.4M1433.8 615L1446.1 614.2M1440 614.5L1436.6 629.9" fill="none" stroke="#1e1e1e" stroke-width="2.1" />
<path d="M1512.3 615.6L1520.6 608.2L1515.7 634.2M1508.7 633.4L1521.5 633.1M1529.3 614.5C1530.1 613.8 1532.2 611.2 1534 610.3C1535.8 609.4 1538.4 608.8 1540.1 609.1C1541.8 609.5 1544 610.7 1544.3 612.4C1544.6 614.2 1544.8 616 1541.9 619.7C1539 623.3 1526.8 631.9 1527 634.2C1527.2 636.5 1540.3 633.5 1542.9 633.3" fill="none" stroke="#1e1e1e" stroke-width="2.1" />
<path d="M1142.1 661.4C1143 661.2 1146.2 660 1148 660.1C1149.7 660.3 1152 661.1 1152.7 662.5C1153.4 663.9 1153.4 667 1152.1 668.4C1150.8 669.9 1145.2 670 1145.1 671C1144.9 672 1150.1 673 1151.3 674.5C1152.6 675.9 1153.6 678.1 1152.6 679.7C1151.6 681.2 1147.7 683.6 1145.4 683.8C1143.1 683.9 1139.9 681.1 1138.9 680.5" fill="none" stroke="#1e1e1e" stroke-width="2.1" />
<path d="M1246.4 660.3C1246.7 661 1248 662.3 1248.3 664C1248.6 665.8 1248.5 668.6 1248.2 670.7C1247.8 672.7 1247.1 674.6 1246.3 676.5C1245.5 678.4 1244.7 680.9 1243.3 682.1C1241.9 683.3 1239.6 683.6 1238.1 683.8C1236.6 683.9 1235.1 683.5 1234.1 682.8C1233.1 682 1232.5 680.9 1232.1 679.3C1231.7 677.7 1231.7 675.3 1231.8 673.3C1232 671.2 1232.2 668.8 1233.1 666.8C1233.9 664.8 1235.7 662.6 1237 661.5C1238.3 660.3 1239.4 660.1 1240.9 659.8C1242.3 659.5 1244.7 659.7 1245.5 659.7M1257.4 659.8C1256.7 662.7 1253.7 672.8 1253.5 676.9C1253.3 680.9 1255.1 682.6 1256 684C1257 685.4 1257.5 685.2 1259.1 685.2C1260.8 685.2 1264.2 685.1 1265.8 683.9C1267.4 682.6 1267.3 681.9 1268.8 677.7C1270.2 673.5 1273.5 661.9 1274.4 658.8M1281.9 659.1L1299.2 658.4M1290.9 659.5L1283.5 683.4M1320.1 661.5C1317.6 661.5 1309 657.6 1305.5 661.8C1302 666 1297.4 682.5 1299 686.5C1300.6 690.5 1312.4 686 1315.1 685.9M1301.8 673.6L1314.3 673.2M1320.4 684.5L1327 659.2M1327.1 659.6C1328.8 659.7 1335.1 659 1337.3 660C1339.5 661 1340.8 663.8 1340.4 665.9C1340.1 668 1338 671.2 1335 672.5C1332.1 673.9 1324.9 673.7 1322.9 674M1329.3 673L1337.8 685.5" fill="none" stroke="#1e1e1e" stroke-width="2.2" />
<path d="M1363.8 685L1369.2 661M1367.8 661.4C1369.4 661.6 1375.7 661.2 1377.7 662.3C1379.7 663.3 1380.1 665.8 1379.7 667.6C1379.3 669.3 1377.6 671.7 1375.4 672.7C1373.2 673.7 1368 673.3 1366.6 673.4M1371 674L1377.4 686.4M1382.7 686.2L1396.4 660.6L1399.3 685.8M1388.7 675.9L1399.6 676.1M1423 665.3C1422.4 664.7 1421 661.8 1419.3 661.5C1417.6 661.2 1414.7 661.7 1412.7 663.7C1410.7 665.7 1408.1 670.4 1407.4 673.7C1406.8 677 1407.8 681.4 1408.7 683.5C1409.5 685.6 1410.5 686.5 1412.5 686.4C1414.4 686.3 1419.1 683.6 1420.4 683.1M1441.7 659.6C1439.8 659.8 1433.1 656.4 1430.2 660.8C1427.4 665.1 1423.1 681.6 1424.4 685.6C1425.8 689.6 1436.1 684.9 1438.4 684.8M1427.3 672.8L1437.6 672.3" fill="none" stroke="#1e1e1e" stroke-width="2.2" />
<path d="M1517.9 666.3L1524.5 658.7L1522.2 683.6M1517 685.1L1529.3 683.4" fill="none" stroke="#1e1e1e" stroke-width="2.1" />
<path d="M1140.3 721.3C1140.9 720.6 1142.2 718.2 1143.7 717.4C1145.2 716.6 1147.8 716 1149.3 716.5C1150.9 717 1152.9 718.9 1153.1 720.5C1153.3 722.1 1153.2 722.8 1150.5 725.9C1147.7 729 1136.4 736.8 1136.7 739C1137 741.1 1149.7 738.8 1152.3 738.8" fill="none" stroke="#1e1e1e" stroke-width="2.1" />
<path d="M1227.1 743.7L1234.8 717.7M1235.1 717.4C1236.8 717.3 1242.8 716.1 1245.2 717C1247.5 717.9 1249.7 720.8 1249.2 722.8C1248.8 724.8 1245.8 727.5 1242.6 728.9C1239.5 730.4 1232.3 731.4 1230.3 731.8M1236.5 731.8L1245.9 744.6M1275.2 714.7C1272.4 714.8 1262.4 710.5 1258.6 715.1C1254.8 719.8 1250.2 738.2 1252.2 742.7C1254.2 747.2 1267.6 742.4 1270.7 742.3M1256.4 727.9L1269.1 728.6M1283.1 717.3L1303.8 715M1293.2 716.2L1286.5 742.1M1301.6 743.3L1319.9 714.8L1323.3 742.7M1308.8 732.7L1322.2 732.9M1337.5 716.1L1348.3 716.2M1344.3 716.2L1336.2 742.3M1329.1 743.6L1342.7 742.8M1350.6 743.3C1351.6 738.6 1354.1 715.3 1356.9 715.3C1359.7 715.3 1364.3 743.3 1367.2 743.4C1370.1 743.5 1373.2 720.6 1374.4 716M1400 715.8C1396.9 715.9 1385.9 711.7 1381.8 716.3C1377.6 720.9 1373.3 738.9 1375.2 743.4C1377 747.9 1390.1 743.4 1393.1 743.4M1378.5 730.3L1392.9 729.9M1399.5 743.7L1405.3 716.9M1404.3 715.9C1406.2 716.2 1413.4 716.3 1415.8 717.5C1418.2 718.7 1419 721.3 1418.8 723.1C1418.6 725 1417.5 727.3 1414.6 728.6C1411.8 729.9 1404.1 730.7 1402 731.1M1407.7 729.6L1417 743.6" fill="none" stroke="#1e1e1e" stroke-width="2.2" />
<path d="M1515.6 722.7L1525 713.1L1522.3 744.5M1515.4 743.7L1529.6 743" fill="none" stroke="#1e1e1e" stroke-width="2.1" />
<path d="M1137.1 785L1144.1 777.5L1142.8 803.4M1135.9 802.5L1150.4 802.3" fill="none" stroke="#1e1e1e" stroke-width="2.1" />
<path d="M1205.3 774L1215.9 773.8M1210.8 773.1L1204 804.1M1199.7 803.1L1211.2 802M1219.2 805.2C1220 800.4 1221.2 776.8 1223.8 776.6C1226.5 776.3 1232.3 804 1235 803.7C1237.7 803.4 1239.2 779.8 1240 775M1243.4 803.8C1244 799 1244.1 775.2 1247 774.9C1250 774.7 1258.4 802.3 1261.3 802.1C1264.3 802 1264.2 778.5 1264.8 773.8M1290.2 774.2C1287.6 774.5 1278.3 770.8 1274.7 775.6C1271.1 780.4 1266.9 798.5 1268.7 802.9C1270.4 807.3 1282.3 802 1285 801.8M1272.6 789.6L1283.7 787.1M1292.1 804.3L1296.6 773.5M1296.2 775.4C1298 775.6 1304.6 775.4 1306.8 776.3C1309 777.2 1309.6 778.5 1309.5 780.7C1309.3 782.8 1308.4 787.7 1305.8 789.2C1303.2 790.7 1295.9 789.6 1293.9 789.7M1299.6 790L1308.7 803.1" fill="none" stroke="#1e1e1e" stroke-width="2.1" />
<path d="M1331 803.8L1335.9 774.7M1336.4 775C1338.1 775.1 1344.4 774.3 1346.3 775.7C1348.3 777.1 1348.6 780.8 1348.2 783.3C1347.7 785.7 1346 788.8 1343.7 790.2C1341.4 791.7 1335.9 791.6 1334.4 791.9M1338.2 790.4L1346.6 805.3M1353 805.5L1369.7 776.7L1372.1 805.1M1358.6 793.9L1371.8 794.9M1398.9 779.1C1398.1 778.3 1396.1 774.8 1394.4 774.7C1392.8 774.6 1391.1 775.8 1388.9 778.3C1386.7 780.8 1382.4 785.8 1381.2 789.7C1380 793.5 1380.8 798.9 1381.7 801.5C1382.6 804.1 1384.5 805.2 1386.5 805.1C1388.6 805.1 1392.6 802.1 1393.8 801.5M1419.4 776C1416.9 776 1407.7 771.3 1404.4 776.4C1401 781.4 1397.4 801.5 1399.2 806.4C1401.1 811.3 1412.9 805.8 1415.6 805.7M1401.6 790.5L1414.6 789.4" fill="none" stroke="#1e1e1e" stroke-width="2.1" />
<path d="M1514.2 782.9L1522 775.2L1517.3 804.5M1511.3 805.6L1525 804.5" fill="none" stroke="#1e1e1e" stroke-width="2.1" />
<path d="M1116.2 829.6L1123.7 830M1120.9 829.2L1116.8 849.1M1113.2 849.7L1121.5 848.8M1130.8 829.7L1144.1 828.6M1138.2 829.1L1134 848.6M1160.6 830C1158.5 829.9 1150.7 826 1148.2 829.2C1145.8 832.5 1144.2 846.2 1145.8 849.5C1147.5 852.7 1156 848.9 1158 848.8M1146.5 840L1155.9 838.6M1161.3 848.8C1162 845.5 1163.5 828.8 1165.6 828.8C1167.8 828.9 1171.7 849 1174 849.1C1176.2 849.2 1178.1 832.6 1178.9 829.3" fill="none" stroke="#1e1e1e" stroke-width="2.2" />
<path d="M1114.9 878.1C1115.4 875.2 1115.9 861.3 1117.9 861.2C1119.9 861.1 1124.8 877.8 1126.8 877.8C1128.8 877.7 1129.4 863.6 1129.9 860.8M1141.9 861.3C1142.1 861.7 1142.8 862.5 1143.2 863.8C1143.5 865 1144.1 867.2 1144 868.6C1144 870 1143.4 871 1143 872.2C1142.6 873.3 1142.5 874.8 1141.7 875.8C1140.8 876.8 1138.9 877.8 1137.9 878.1C1136.9 878.4 1136.4 878.1 1135.6 877.5C1134.9 876.9 1134.1 875.5 1133.6 874.4C1133.2 873.3 1133.2 872.5 1133 871.1C1132.9 869.7 1132.4 867.4 1132.8 866C1133.2 864.7 1134.6 863.8 1135.5 862.9C1136.4 862 1137.2 861 1138.2 860.7C1139.1 860.4 1140.8 861.1 1141.3 861.2M1149.3 877.4L1150.6 877.7" fill="none" stroke="#1e1e1e" stroke-width="2.2" />
<path d="M1227.5 844.5L1221.6 869.7M1226.8 845.9C1228.2 845.9 1233.2 844.8 1235.1 845.9C1237 846.9 1237.8 849.6 1238 852.4C1238.2 855.1 1237.4 859.7 1236.1 862.5C1234.8 865.3 1232.6 867.8 1230.2 869.1C1227.7 870.4 1223 870.1 1221.6 870.3M1259.7 843.9C1257.3 843.8 1248.6 839.5 1245.5 843.5C1242.3 847.5 1239.4 864 1240.8 867.9C1242.2 871.8 1251.8 867 1254 866.9M1243.4 855.6L1252.7 854.5M1277.9 848.2C1277.2 847.7 1275.1 845.9 1273.4 845.6C1271.7 845.4 1269 845.6 1267.5 846.6C1266.1 847.7 1264.5 850.3 1264.7 852C1265 853.8 1267.7 855.3 1269.1 857C1270.4 858.8 1272.4 861 1272.8 862.7C1273.2 864.3 1272.5 865.8 1271.3 867C1270 868.2 1266.9 869.9 1265.1 869.8C1263.4 869.8 1261.5 867.1 1260.7 866.6M1295.6 847.3C1295.2 846.7 1294.9 843.8 1293.3 843.6C1291.7 843.5 1288.1 844.6 1286 846.6C1284 848.5 1282 852.4 1281.1 855.5C1280.3 858.6 1280.1 862.8 1280.9 865C1281.7 867.1 1284 868.4 1285.9 868.4C1287.8 868.5 1291.3 865.7 1292.4 865.2M1297.7 868.4L1303 843.4M1302 844C1303.5 844 1309.1 843.2 1311.1 844C1313.1 844.9 1314.4 847.3 1314.1 849.1C1313.7 850.9 1311.4 853.5 1309 854.7C1306.5 856 1301 856.4 1299.4 856.7M1304.3 856.3L1310.8 867.9M1321.8 845.2L1330.2 845.6M1326.2 845.2L1320.8 869M1317.3 869.6L1325.5 869M1331.3 868.4L1339 844.3M1337.3 844.1C1338.8 844.2 1344.3 843.9 1346.3 844.9C1348.3 846 1349.6 848.7 1349.4 850.5C1349.1 852.3 1347.4 854.7 1345.1 855.9C1342.7 857.1 1337 857.5 1335.4 857.8M1355.7 845.4L1371.4 843.9M1364 843.7L1358.1 869.7M1377.3 844.4L1386.5 844.6M1382.2 843.8L1375 868.9M1370.7 868.6L1379.8 868.6M1400.6 845.2C1400.9 845.7 1402.1 846.9 1402.4 848.3C1402.6 849.8 1402.5 851.9 1402.2 854C1401.9 856.1 1401.2 859.1 1400.6 860.9C1399.9 862.8 1399.1 864.1 1398.2 865.3C1397.3 866.5 1396.1 867.8 1395 868.3C1393.8 868.9 1392.3 869.3 1391.3 868.5C1390.4 867.7 1389.8 865.2 1389.3 863.6C1388.7 862 1388 861 1388 858.9C1387.9 856.8 1388 853 1388.8 850.9C1389.6 848.9 1391.5 847.6 1392.9 846.5C1394.3 845.4 1396.1 844.6 1397.3 844.4C1398.5 844.2 1399.7 845.3 1400.2 845.5M1405.9 868.8C1406.8 864.7 1408.8 844 1411 844.2C1413.2 844.4 1416.7 869.8 1419.1 869.8C1421.5 869.8 1424.4 848.4 1425.5 844.1" fill="none" stroke="#1e1e1e" stroke-width="2.2" />
<path d="M1476.4 838.2C1477.1 839.4 1479.4 842.7 1480.5 845.3C1481.7 847.8 1483.2 850.5 1483.2 853.6C1483.3 856.8 1481.5 861.3 1480.8 864.3C1480.2 867.4 1480.5 869.7 1479.2 871.9C1478 874.1 1475.3 876.9 1473.4 877.4C1471.4 877.9 1468.8 876.1 1467.6 874.8C1466.4 873.6 1466.9 872.8 1466.2 870.1C1465.5 867.5 1463.5 862 1463.3 858.7C1463.2 855.3 1464.5 852.7 1465.3 850C1466.1 847.3 1467 844.7 1468.3 842.5C1469.5 840.3 1471.8 837.6 1473 836.7C1474.3 835.9 1475.3 837.4 1475.7 837.5M1473.4 865.5L1482.3 880.6M1491.3 840.6L1512.4 837.1M1502.2 839.2L1498.4 879M1517.8 836.7L1526.6 855.6L1536.5 836.6M1525.4 856.8L1524.5 877.8M1542.6 875.3L1545.3 877.1" fill="none" stroke="#1e1e1e" stroke-width="2.2" />
<path d="M955 945.8C956 941.4 958.6 920 960.7 919.7C962.8 919.5 965.3 944.4 967.6 944.3C969.9 944.1 973.4 923.1 974.5 918.8M973.9 946L987.6 921.2L990.8 946.2M979.6 936.4L989.5 937.3M995.4 946.4C996.7 941.9 1001.3 920.7 1003.2 919.3C1005.1 918 1004.4 938.2 1007 938.5C1009.6 938.8 1017.6 919.7 1018.7 920.9C1019.8 922.1 1014.4 941.7 1013.5 945.8M1038.5 921C1036.3 920.9 1028.6 916.4 1025.3 920.5C1022.1 924.6 1018 941.4 1019 945.7C1020 950 1029.3 946.3 1031.4 946.4M1022.5 933.7L1031.9 932.1" fill="none" stroke="#1e1e1e" stroke-width="2.1" />
<path d="M1095.1 917.9L1090.1 942.5M1093.7 918.5C1094.9 918.6 1099.1 917.6 1100.9 919C1102.8 920.3 1104.2 924.2 1104.7 926.8C1105.1 929.4 1104.9 932.3 1103.7 934.8C1102.6 937.2 1100 940.3 1097.6 941.6C1095.3 942.9 1090.9 942.3 1089.5 942.4M1108.2 944.2L1120.6 918.4L1125.4 943.2M1113.5 934.9L1124.5 933.7M1134.3 919.5L1148.9 919M1142.5 917.7L1136.5 942.6M1166.2 919.1C1164 919 1155.7 914.9 1152.8 919C1149.9 923 1147.4 939.4 1149 943.4C1150.6 947.4 1160.1 942.9 1162.3 942.8M1151.2 931.5L1160.4 931.4" fill="none" stroke="#1e1e1e" stroke-width="2.1" />
<path d="M1284.7 909.9C1284.1 912.8 1281.3 922.9 1281.1 927C1280.8 931.2 1281.9 933.2 1283 934.6C1284.1 936.1 1286.3 935.6 1287.8 935.6C1289.4 935.5 1291 935.4 1292.5 934.1C1294 932.8 1295.5 931.9 1296.8 927.8C1298.2 923.7 1299.9 912.6 1300.6 909.5M1302.4 935.5C1303 931.2 1303.5 909.9 1306.4 910C1309.3 910 1316.7 935.5 1319.5 935.6C1322.4 935.7 1322.9 914.9 1323.5 910.8M1329.3 910.6L1340.5 909.5M1335.5 910L1331.9 934.3M1326.6 934.5L1337.3 933.7M1348.9 910.1L1351.1 933.9L1365.2 909.2M1384.3 909.8C1382 909.8 1373.3 905.8 1370.4 910C1367.5 914.3 1364.9 931.2 1366.9 935.2C1368.8 939.3 1379.5 934.4 1382.1 934.2M1368.4 922.9L1379.8 921.2M1387 935.4L1393.2 911.4M1391.4 911.2C1393.1 911.4 1399.3 911.3 1401.5 912.4C1403.8 913.5 1405.2 916.2 1405.1 917.9C1405 919.6 1403.6 921.3 1401.1 922.4C1398.7 923.5 1392.1 924.1 1390.2 924.5M1395.7 924.7L1403.8 935.5M1429.1 914.7C1428.2 914.3 1425.5 912.1 1423.5 912C1421.4 911.8 1418.3 912.6 1416.7 913.8C1415 915 1413 917.6 1413.5 919.2C1414 920.9 1417.7 922.5 1419.7 923.9C1421.7 925.3 1425 926.2 1425.7 927.7C1426.4 929.3 1425.5 931.6 1424.1 933.1C1422.8 934.6 1419.7 936.9 1417.5 936.9C1415.2 937 1411.6 934 1410.4 933.5M1436.5 911.5L1445.8 911.2M1441.9 910.9L1436.7 935.8M1431.8 936.7L1442.1 935.5M1453.5 910.8L1470.2 911.2M1461.5 910.6L1457.3 936.1M1476 910.9L1483.2 923L1494.3 911.2M1482.4 922.7L1479.6 935.1" fill="none" stroke="#1e1e1e" stroke-width="2.1" />
<path d="M1298.9 961.8C1299.5 962.3 1301.6 963 1302.3 964.5C1302.9 966 1303.1 968.8 1303 970.8C1302.9 972.8 1302.6 974.7 1301.8 976.4C1301 978.2 1299.3 979.8 1298.2 981.2C1297.2 982.6 1297 984.4 1295.6 984.9C1294.3 985.4 1291.2 985 1290 984.2C1288.9 983.4 1289.3 981.9 1288.6 980.3C1288 978.7 1286.3 976.5 1286.2 974.5C1286.1 972.4 1287.2 969.8 1288 967.8C1288.9 965.8 1290 963.6 1291.3 962.5C1292.6 961.3 1294.7 961.1 1296.1 961C1297.5 961 1299.1 962 1299.7 962.2M1325.6 961.2L1310.4 962.7L1308.4 985.5M1309.2 974L1321.8 974" fill="none" stroke="#1e1e1e" stroke-width="2.1" />
<path d="M1356.9 961.8L1373.1 960.3M1365.9 960.6L1358.8 984.9M1388.9 961.3C1389.4 962.1 1391.3 964.2 1391.9 966C1392.5 967.7 1392.8 969.7 1392.6 971.8C1392.4 973.8 1391.8 976.5 1390.9 978.3C1389.9 980.2 1388.1 981.5 1386.6 982.6C1385.1 983.7 1383.1 984.6 1381.8 984.8C1380.5 985 1379.5 984.5 1378.7 983.7C1377.8 983 1376.9 981.5 1376.5 980.2C1376 978.9 1375.7 977.9 1375.7 975.9C1375.8 973.9 1376.1 970.2 1377 968.1C1377.9 966 1379.7 964.6 1381.2 963.4C1382.6 962.1 1384.4 960.7 1385.9 960.6C1387.4 960.4 1389.3 962.3 1389.9 962.7M1394.5 986.3L1400.2 961.9M1399.6 962.4C1401.2 962.6 1407.4 962.5 1409.7 963.3C1411.9 964.1 1413.6 965.6 1413.2 967.2C1412.8 968.9 1410 972.2 1407.4 973.5C1404.8 974.7 1399.2 974.5 1397.5 974.8M1402 973.8L1410.5 986M1433.6 964C1434 964.5 1435.7 965.8 1436.1 967.1C1436.5 968.4 1436.4 969.9 1436.1 971.8C1435.7 973.8 1435 976.9 1433.9 978.9C1432.9 980.9 1430.9 982.7 1429.7 983.9C1428.5 985.1 1427.8 986 1426.5 986.2C1425.3 986.5 1423.4 985.9 1422.2 985.3C1421 984.6 1419.9 984.2 1419.3 982.6C1418.7 981 1418.2 977.8 1418.5 975.7C1418.9 973.6 1420.6 971.7 1421.5 970C1422.5 968.2 1422.9 966.5 1424.1 965.3C1425.4 964.1 1427.4 963 1428.9 962.7C1430.3 962.3 1432.1 963.2 1432.8 963.3M1437.6 985.1C1438.7 981.2 1441.6 961.5 1444.1 961.7C1446.7 961.9 1450.3 986.4 1452.7 986.2C1455 986.1 1457.4 965.2 1458.4 960.9M1464.3 962.1L1480.8 961.7M1472.6 961.6L1468.3 984.9M1496.7 962.7C1497.2 963.3 1498.9 964.8 1499.5 966.2C1500.2 967.5 1500.6 968.9 1500.6 970.8C1500.6 972.8 1500.5 976 1499.6 978C1498.6 980.1 1496.3 982.1 1494.9 983.2C1493.6 984.3 1492.4 984.4 1491.3 984.6C1490.3 984.9 1489.4 985.3 1488.4 984.6C1487.4 983.9 1486 981.9 1485.4 980.2C1484.8 978.5 1484.7 976.3 1484.7 974.4C1484.7 972.5 1484.7 970.5 1485.2 968.8C1485.8 967 1486.8 965.4 1488 964.1C1489.2 962.9 1490.9 961.5 1492.4 961.1C1493.9 960.8 1496.3 961.9 1497.1 962" fill="none" stroke="#1e1e1e" stroke-width="2.1" />
<path d="M1234.6 1026.8L1249.8 1026.8M1241.5 1026.6L1237.9 1049.6M1254.3 1026.1L1263.9 1026.6M1260 1025.1L1255.5 1048.2M1250.7 1049.3L1259.5 1049.1M1267.4 1026.2L1283.6 1026M1275.3 1025.1L1272.3 1049.3M1288.5 1025.2L1285.2 1047.3L1298.3 1047.3M1319.8 1025.1C1317.5 1025.2 1308.9 1021.7 1306.1 1025.7C1303.2 1029.8 1300.8 1045.8 1302.5 1049.4C1304.2 1053.1 1313.9 1047.9 1316.1 1047.6M1304.1 1037.9L1314.8 1036.7" fill="none" stroke="#1e1e1e" stroke-width="2.1" />
<path d="M1305.9 1064.8L1300.7 1091.2M1304 1065.2C1305.5 1065.4 1311 1065.7 1313 1066.4C1315 1067.2 1316.4 1068.2 1316.1 1069.8C1315.9 1071.5 1313.8 1074.8 1311.6 1076.1C1309.4 1077.5 1304.4 1077.8 1303 1078.1M1302.8 1077.7C1304.3 1078 1309.8 1078.4 1311.8 1079.4C1313.8 1080.4 1314.9 1081.9 1314.8 1083.8C1314.6 1085.7 1313.2 1089.7 1310.6 1090.8C1308 1091.9 1301.1 1090.4 1299.2 1090.3M1319 1091.4L1332.9 1065.5L1336.3 1092.2M1325.6 1080.6L1335.7 1082M1348.6 1066L1341 1091.4L1354.6 1091.7M1365.4 1066.4L1359.4 1091.9L1372 1090.9" fill="none" stroke="#1e1e1e" stroke-width="2.1" />
<path d="M1401.1 1065.8L1395.7 1093M1401.3 1066.4C1402.8 1066.4 1408.3 1065.6 1410.2 1066.4C1412.2 1067.2 1413.3 1069.2 1413 1071.2C1412.6 1073.1 1410.5 1076.9 1408.2 1078.2C1406 1079.5 1400.8 1078.9 1399.3 1079M1399.5 1078.7C1401.1 1078.9 1407 1078.5 1409 1079.6C1411.1 1080.7 1411.9 1083.6 1411.7 1085.5C1411.5 1087.4 1410.3 1090.1 1407.8 1091.2C1405.3 1092.2 1398.6 1091.7 1396.8 1091.8M1436.1 1066.3C1433.9 1066.6 1426.3 1063.8 1423 1068.3C1419.7 1072.8 1415 1089.3 1416.3 1093.4C1417.6 1097.5 1428.4 1093.1 1430.9 1093M1419.2 1079.8L1431.6 1078.9M1435.6 1091.1L1450.5 1065L1454 1091M1441.7 1082.3L1453.4 1081.1M1459.7 1091.7L1467.7 1067.2M1466.5 1066.3C1468 1066.5 1473.4 1066.2 1475.5 1067.3C1477.6 1068.4 1479.5 1071.1 1479.3 1073C1479.1 1074.8 1476.9 1077.1 1474.2 1078.4C1471.4 1079.8 1464.7 1080.6 1462.8 1081M1468.5 1079.8L1475.5 1092.2M1486 1065.8L1496 1065.1M1492.3 1064.6L1485.6 1090.2M1481.3 1091.2L1491.8 1089.8M1496.8 1091.5C1497.9 1087.2 1500.8 1065.6 1503.4 1065.6C1506 1065.6 1509.6 1091.4 1512.3 1091.5C1515 1091.6 1518.4 1070.3 1519.6 1066.1M1539 1070C1538.3 1069.3 1536.7 1066 1535 1065.8C1533.3 1065.6 1530.7 1066.5 1528.7 1068.8C1526.7 1071.1 1523.7 1076.3 1522.8 1079.6C1521.9 1082.9 1522.4 1086.4 1523.4 1088.6C1524.3 1090.8 1526.7 1092.9 1528.4 1092.9C1530.2 1093 1532.4 1090.9 1533.8 1089.1C1535.2 1087.2 1537.4 1083.4 1536.8 1082C1536.1 1080.5 1530.9 1080.5 1529.8 1080.3M1536.7 1081.4L1534.4 1093.1" fill="none" stroke="#1e1e1e" stroke-width="2.1" />
<path d="M1249.4 1127.4C1248.5 1126.9 1245.5 1124.3 1243.6 1124.4C1241.7 1124.4 1239.2 1126.3 1238.2 1127.6C1237.2 1128.9 1236.6 1130.5 1237.4 1132.2C1238.2 1133.9 1241.4 1136.1 1242.8 1137.8C1244.2 1139.4 1245.3 1140.2 1245.8 1142.1C1246.3 1144 1247 1147.8 1245.9 1149.2C1244.9 1150.5 1241.2 1150.5 1239.4 1150.2C1237.6 1149.9 1235.9 1147.9 1235.2 1147.4M1268.7 1128.4C1268.1 1127.8 1266.7 1124.8 1265 1124.9C1263.3 1125 1260.4 1126.6 1258.5 1128.9C1256.6 1131.1 1254.3 1135.2 1253.7 1138.4C1253.1 1141.6 1253.8 1145.9 1254.9 1148.1C1256 1150.4 1258.5 1151.7 1260.3 1151.7C1262.1 1151.6 1264.8 1148.6 1265.7 1148M1271.8 1150L1283.1 1123.4L1286.6 1149.7M1275.3 1139.4L1286.7 1140.2M1296.4 1123.7L1291.2 1150.2L1304.7 1148.4M1325.2 1124.2C1323.1 1124.5 1315.8 1121.3 1313 1125.8C1310.2 1130.2 1306.6 1146.8 1308.1 1150.9C1309.6 1154.9 1319.6 1150.1 1321.9 1149.9M1311.3 1138.2L1320.3 1137.7" fill="none" stroke="#1e1e1e" stroke-width="2.1" />
<path d="M1350.8 1188C1352.1 1183.1 1355.7 1158.8 1358.8 1158.7C1361.9 1158.7 1366.3 1187.6 1369.4 1187.6C1372.4 1187.6 1375.9 1163.5 1377.2 1158.7M1401.1 1154.8L1377.3 1189.5M1400.1 1190.4L1418.4 1159.3L1425.4 1188.4M1406.5 1178.3L1423.1 1176.7" fill="none" stroke="#1e1e1e" stroke-width="2.2" />
<path d="M843.9 1061.3L840.1 1089.9M843.1 1063.3C844.1 1063.3 847.3 1062.4 848.8 1063.6C850.4 1064.8 852 1067.7 852.5 1070.5C852.9 1073.4 852.6 1077.8 851.6 1080.7C850.7 1083.7 848.8 1086.9 847 1088.1C845.2 1089.4 842 1088.2 841 1088.3M857.1 1088.4L859.5 1062.6M860.6 1062.7C861.5 1062.5 864.9 1061.1 866.2 1061.9C867.5 1062.7 868.7 1065.2 868.5 1067.3C868.2 1069.5 866.4 1073.2 864.7 1074.7C862.9 1076.2 859.1 1076.1 858 1076.4M861.6 1074.8L868.1 1089M872 1090L882.6 1062.5L884.6 1088.8M875.4 1079.7L883.9 1078.6M891.9 1060.9C891.9 1065.7 891.2 1088.1 892.1 1089.6C893 1091.2 896 1070.3 897.3 1070.1C898.6 1069.9 898.5 1089.8 899.9 1088.3C901.3 1086.8 904.7 1065.6 905.7 1061.1M908.7 1088.9C909.4 1084.5 911.1 1062.3 912.8 1062.4C914.5 1062.6 917.3 1089.6 919 1089.8C920.7 1090 922.3 1068 923 1063.6" fill="none" stroke="#1e1e1e" stroke-width="2.2" />
<path d="M966.9 1024L971.6 1037.9L979.3 1024.2M971.8 1036.7L969.4 1049.8M984.2 1025.3L992.1 1025.1M987.8 1025.3L984.2 1051.8M980.3 1051.5L989 1050.5M996.7 1024.5L1006.7 1050.5M1009.2 1023.9L993.6 1051" fill="none" stroke="#1e1e1e" stroke-width="2.1" />
<path d="M1017.3 1029.8L1024.7 1028.3M1020.7 1029.4L1018.4 1047.4M1013.5 1047.6L1021.5 1047.4M1026.9 1047.9L1036.1 1030.1L1041.1 1048.4M1030.4 1041.6L1039.9 1040.8M1055.1 1029.6C1055.5 1030.1 1056.7 1031.4 1057.2 1032.6C1057.6 1033.8 1058 1035.1 1058 1036.7C1058 1038.3 1057.6 1040.8 1057 1042.3C1056.5 1043.8 1055.4 1044.8 1054.7 1045.8C1053.9 1046.7 1053.5 1047.6 1052.6 1047.9C1051.6 1048.1 1049.9 1047.9 1049 1047.3C1048.2 1046.7 1047.9 1045.3 1047.5 1044.2C1047 1043.1 1046.5 1042.2 1046.4 1040.7C1046.2 1039.2 1046 1036.8 1046.6 1035.2C1047.1 1033.7 1048.6 1032.6 1049.5 1031.5C1050.4 1030.4 1051 1029.1 1051.9 1028.8C1052.8 1028.5 1054.5 1029.6 1055 1029.7" fill="none" stroke="#1e1e1e" stroke-width="2.1" />
<path d="M969.1 1075.8L963.6 1104.2M984.4 1075.7L979.3 1103.9M966.9 1090.4L981.3 1090.3M1001.7 1075.3C1002.1 1076.1 1003.2 1078 1003.8 1080C1004.3 1082 1005.4 1085 1005 1087.4C1004.6 1089.8 1002.5 1092.4 1001.4 1094.5C1000.4 1096.7 999.8 1098.9 998.8 1100.3C997.8 1101.8 996.7 1102.7 995.3 1103.3C993.9 1103.8 991.8 1104.3 990.6 1103.4C989.4 1102.6 988.5 1100.1 988 1098.2C987.5 1096.3 987.4 1094.3 987.7 1092C988 1089.7 989 1086.9 989.8 1084.3C990.6 1081.8 991.5 1078.4 992.8 1076.9C994.1 1075.3 996.1 1075 997.6 1074.9C999.1 1074.8 1001.1 1075.9 1001.7 1076.1M1006.5 1103.8C1007.6 1098.7 1010 1073.4 1012.8 1073.3C1015.6 1073.2 1020.7 1103 1023.3 1103.2C1025.9 1103.4 1027.5 1079.3 1028.4 1074.5M1050.2 1079.9C1049.6 1079.2 1048.2 1075.7 1046.7 1075.7C1045.2 1075.6 1043 1077.3 1041 1079.6C1039 1081.9 1035.8 1085.7 1034.6 1089.3C1033.5 1092.8 1033.3 1098.3 1033.9 1101C1034.6 1103.7 1036.7 1105.5 1038.6 1105.5C1040.5 1105.5 1043.7 1103.4 1045.4 1101.1C1047 1098.8 1048.8 1093.3 1048.4 1091.8C1048 1090.4 1043.9 1092.3 1043 1092.4M1048.8 1092.1L1044.9 1105.5" fill="none" stroke="#1e1e1e" stroke-width="2.1" />
<path d="M1095.7 1065.1L1100.3 1055.9L1093.4 1087.6M1089.2 1087.9L1097.7 1086.7M1112.2 1057.9C1112 1058.6 1111.2 1060.2 1111.1 1062.1C1111.1 1064.1 1111.9 1067.1 1111.8 1069.7C1111.6 1072.2 1111 1074.9 1110.3 1077.5C1109.5 1080 1108.2 1083.2 1107.3 1085C1106.4 1086.7 1105.4 1087.7 1104.9 1088C1104.4 1088.3 1104.5 1087.7 1104.1 1086.9C1103.7 1086 1102.7 1084.8 1102.5 1082.9C1102.3 1081 1102.7 1078.2 1102.9 1075.4C1103.1 1072.7 1102.9 1069.2 1103.7 1066.5C1104.4 1063.8 1106.2 1060.9 1107.2 1059.2C1108.3 1057.4 1109.4 1056.3 1110.2 1056C1110.9 1055.7 1111.2 1056.9 1111.5 1057.1M1128.3 1054.6L1112.7 1090.9M1129.6 1063.4L1135.2 1054.9L1127.7 1085.6M1125.2 1087.5L1132.5 1085.9M1153.4 1054.6C1152 1054.9 1146.8 1053.8 1144.6 1056.4C1142.4 1059.1 1140.1 1068.6 1140.3 1070.4C1140.5 1072.2 1144.4 1066.9 1145.8 1067.2C1147.2 1067.5 1148.6 1070.1 1148.7 1072.4C1148.8 1074.6 1147.4 1078.4 1146.2 1080.7C1145.1 1083 1143.4 1085.7 1142 1086C1140.6 1086.3 1138.4 1083.1 1137.7 1082.5M1165.1 1053.2L1148.2 1090.5" fill="none" stroke="#1e1e1e" stroke-width="2.1" />
<path d="M1163 1071.1C1163.6 1070.5 1165.4 1068.1 1166.6 1067.3C1167.8 1066.4 1169.2 1065.7 1170.2 1066C1171.2 1066.2 1172.3 1067.3 1172.5 1068.9C1172.7 1070.5 1173.1 1072.6 1171.3 1075.7C1169.6 1078.8 1162.1 1085.8 1161.9 1087.6C1161.8 1089.4 1169 1086.7 1170.5 1086.5M1182.5 1067.5C1182.6 1068.3 1182.9 1070.4 1183 1071.9C1183.2 1073.4 1183.6 1074.8 1183.4 1076.4C1183.2 1077.9 1182.3 1079.5 1181.8 1081.2C1181.3 1082.9 1180.8 1085.6 1180.4 1086.7C1179.9 1087.8 1179.7 1087.8 1179.2 1087.9C1178.7 1088 1178 1087.5 1177.4 1087C1176.8 1086.6 1176.1 1086.3 1175.7 1085.2C1175.4 1084 1175 1082.1 1175.2 1080.2C1175.3 1078.2 1176.1 1075.2 1176.5 1073.5C1176.9 1071.7 1177.2 1070.6 1177.7 1069.7C1178.2 1068.7 1179 1068.1 1179.6 1067.9C1180.2 1067.7 1181.1 1068.4 1181.4 1068.6M1187.8 1071.9L1192 1067.1L1190 1087.6M1185.4 1087.7L1193.1 1087.2M1208.5 1066.2C1207.4 1066.2 1203.5 1064.6 1201.9 1066.3C1200.4 1068.1 1198.8 1075.2 1199.1 1076.7C1199.4 1078.2 1202.4 1075 1203.7 1075.3C1205.1 1075.5 1207.2 1076.8 1207.4 1078.1C1207.7 1079.5 1206.2 1082 1205.3 1083.4C1204.5 1084.9 1203.7 1086.5 1202.3 1086.8C1201 1087.1 1198.2 1085.6 1197.4 1085.3" fill="none" stroke="#1e1e1e" stroke-width="2.1" />
<path d="M1608.1 758.8L1639.7 761M1608.4 759.3C1608.4 757.7 1606.9 751.8 1608.1 749.7C1609.4 747.6 1613.4 746.5 1615.9 746.4C1618.4 746.4 1621.5 747.1 1623 749.4C1624.5 751.6 1624.7 758.4 1625 760.2M1624.7 759.1C1624.9 757.3 1624.7 750.5 1626 748.3C1627.4 746.1 1630.9 745.6 1632.9 746C1634.9 746.3 1637.1 747.6 1638.2 750.3C1639.4 753 1639.5 760.1 1639.8 762.1M1640.1 739.1L1608.5 728.4L1641.7 721.6M1627.9 735.2L1629.1 724.4M1610.7 714.3L1641.9 715.6L1641.2 701.9M1609.9 694.5L1641.2 697.3L1641.6 684" fill="none" stroke="#1e1e1e" stroke-width="2.2" />
<path d="M1608.7 634.3L1640.8 636.7M1611.2 635C1611.1 632.7 1610.2 624.4 1611.1 621.7C1612 619 1614.3 618.6 1616.5 618.6C1618.7 618.7 1622.9 619.4 1624.5 621.9C1626 624.5 1625.5 631.9 1625.8 633.9M1625.7 635.1C1626.1 632.7 1626.3 623.4 1627.7 620.5C1629.1 617.7 1632.3 617.7 1634.3 618C1636.2 618.3 1638.2 619.4 1639.4 622.2C1640.7 625 1641.4 632.8 1641.8 635M1610.6 590C1610.6 592.9 1605.5 604.1 1610.8 607.3C1616.1 610.5 1637.3 612 1642.3 609.4C1647.3 606.8 1641.1 594.8 1640.8 591.9M1626.3 608.1L1624.5 594.5M1641.3 584.4L1610.8 569.9L1642.9 563.5M1629.3 580.5L1629.4 565.4M1641.5 555.7L1609.6 551.7M1610 551.1C1610.1 549.1 1609.7 541.6 1610.7 539C1611.6 536.5 1613.3 535.7 1615.7 536C1618.1 536.3 1623.3 537.8 1625.1 540.9C1626.9 543.9 1626.2 552 1626.5 554.2M1626.3 546.8L1641 537.6M1608.2 526.6L1607.7 515.2M1607.1 521.2L1640.5 523.6M1639.3 529.5L1638.6 517.7M1642.2 508.6C1636.8 508.2 1609.9 509.4 1609.9 506.6C1609.9 503.7 1642.4 494.6 1642.2 491.4C1642.1 488.2 1614.5 488.2 1609 487.6M1615.5 461.6C1614.8 462.4 1611.3 464.5 1611.1 466.6C1610.8 468.8 1611.5 472.7 1614 474.7C1616.5 476.7 1622.2 478.5 1626.2 478.7C1630.1 479 1635.1 477.6 1637.6 476.1C1640.2 474.5 1641.4 471.5 1641.4 469.4C1641.5 467.2 1639.8 464.3 1637.9 463.1C1635.9 461.9 1631.1 461 1629.7 462.1C1628.3 463.1 1629.5 468.1 1629.4 469.3M1628.4 461.9L1643.9 463.2" fill="none" stroke="#1e1e1e" stroke-width="2.2" />
<path d="M1175.6 459.9C1176.4 459.6 1179.3 458.2 1180.6 458.2C1182 458.2 1183.1 458.8 1183.5 459.8C1183.9 460.9 1184.1 463.2 1183.1 464.3C1182.2 465.4 1178 465.7 1178 466.3C1178 467 1182.3 467 1183.2 468C1184 469.1 1183.9 471.3 1183.2 472.5C1182.6 473.6 1180.9 474.8 1179.3 475C1177.7 475.2 1174.5 474 1173.6 473.9" fill="none" stroke="#1e1e1e" stroke-width="2.2" />
<path d="M951.5 675.2C952.1 674.7 953.4 673 955.1 672.4C956.8 671.8 960 671.5 961.7 671.7C963.4 671.8 965 672.2 965.2 673.2C965.5 674.2 965.8 675.2 963.2 677.8C960.5 680.4 949.4 687.2 949.5 688.9C949.7 690.5 961.7 688 964.2 687.8" fill="none" stroke="#1e1e1e" stroke-width="2.1" />
<path d="M843.9 759.4L833.3 771.7L847.3 770.6M845.3 763.2L840.8 779.3" fill="none" stroke="#1e1e1e" stroke-width="2.1" />
<path d="M542.7 962.8L551 954.1L547.9 982M541.2 983.4L556.2 981.5" fill="none" stroke="#1e1e1e" stroke-width="2.1" />
</g>
</svg>
</body></html>
